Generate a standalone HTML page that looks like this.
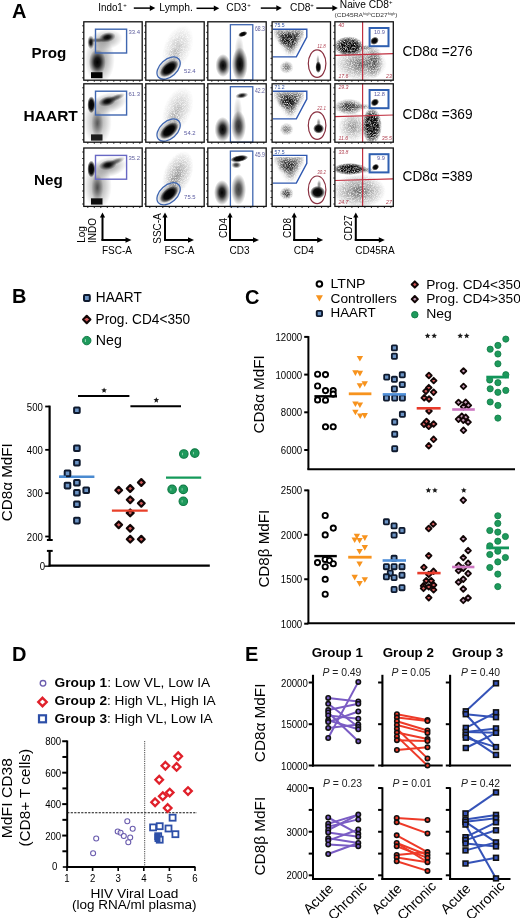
<!DOCTYPE html>
<html><head><meta charset="utf-8"><style>
html,body{margin:0;padding:0;background:#fff;}
svg{display:block;will-change:transform;}
text{font-family:"Liberation Sans", sans-serif;}
</style></head><body>
<svg width="520" height="918" viewBox="0 0 520 918">
<defs>
<filter id="b0.6" x="-100%" y="-100%" width="300%" height="300%"><feGaussianBlur stdDeviation="0.6"/></filter>
<filter id="b1" x="-100%" y="-100%" width="300%" height="300%"><feGaussianBlur stdDeviation="1"/></filter>
<filter id="b1.5" x="-100%" y="-100%" width="300%" height="300%"><feGaussianBlur stdDeviation="1.5"/></filter>
<filter id="b2" x="-100%" y="-100%" width="300%" height="300%"><feGaussianBlur stdDeviation="2"/></filter>
<filter id="b2.5" x="-100%" y="-100%" width="300%" height="300%"><feGaussianBlur stdDeviation="2.5"/></filter>
<filter id="b3" x="-100%" y="-100%" width="300%" height="300%"><feGaussianBlur stdDeviation="3"/></filter>
<filter id="b4" x="-100%" y="-100%" width="300%" height="300%"><feGaussianBlur stdDeviation="4"/></filter>
<radialGradient id="g1"><stop offset="0" stop-color="#000" stop-opacity="1"/><stop offset="0.35" stop-color="#000" stop-opacity="0.85"/><stop offset="0.7" stop-color="#000" stop-opacity="0.35"/><stop offset="1" stop-color="#000" stop-opacity="0"/></radialGradient>
<radialGradient id="g2"><stop offset="0" stop-color="#000" stop-opacity="1"/><stop offset="0.55" stop-color="#000" stop-opacity="0.95"/><stop offset="0.8" stop-color="#000" stop-opacity="0.5"/><stop offset="1" stop-color="#000" stop-opacity="0"/></radialGradient>
<radialGradient id="g3"><stop offset="0" stop-color="#000" stop-opacity="1"/><stop offset="0.5" stop-color="#000" stop-opacity="0.5"/><stop offset="1" stop-color="#000" stop-opacity="0"/></radialGradient>
<filter id="speck" x="0" y="0" width="100%" height="100%">
<feTurbulence type="fractalNoise" baseFrequency="0.9" numOctaves="1" seed="3" result="n"/>
<feColorMatrix in="n" type="matrix" values="0 0 0 0 0  0 0 0 0 0  0 0 0 0 0  0 0 0 -2.2 1.3" result="m"/>
<feComposite in="SourceGraphic" in2="m" operator="in"/>
</filter>
<filter id="speck2" x="0" y="0" width="100%" height="100%" color-interpolation-filters="sRGB">
<feTurbulence type="fractalNoise" baseFrequency="1.3" numOctaves="2" seed="7" result="n"/>
<feColorMatrix in="n" type="matrix" values="0 0 0 0 0  0 0 0 0 0  0 0 0 0 0  0 0 0 -2.2 1.55" result="m"/>
<feComposite in="SourceGraphic" in2="m" operator="in"/>
</filter>
<filter id="dens" x="0" y="0" width="100%" height="100%" color-interpolation-filters="sRGB">
<feTurbulence type="fractalNoise" baseFrequency="1.5" numOctaves="1" seed="5" result="t"/>
<feColorMatrix in="t" type="matrix" values="0 0 0 0 0  0 0 0 0 0  0 0 0 0 0  1.6 0 0 0 -0.3" result="n"/>
<feComposite in="SourceAlpha" in2="n" operator="arithmetic" k1="0" k2="1.1" k3="-1" k4="0.5" result="d"/>
<feComponentTransfer in="d" result="th"><feFuncA type="linear" slope="2.2" intercept="-0.6"/></feComponentTransfer>
<feComponentTransfer in="SourceAlpha" result="sa"><feFuncA type="linear" slope="4" intercept="0"/></feComponentTransfer>
<feComposite in="th" in2="sa" operator="in" result="th2"/>
<feGaussianBlur in="th2" stdDeviation="0.3" result="th3"/>
<feFlood flood-color="#000" result="blk"/>
<feComposite in="blk" in2="th3" operator="in"/>
</filter>
<filter id="grain" x="0" y="0" width="100%" height="100%" color-interpolation-filters="sRGB">
<feTurbulence type="fractalNoise" baseFrequency="1.3" numOctaves="2" seed="11" result="t"/>
<feColorMatrix in="t" type="matrix" values="0 0 0 0 0  0 0 0 0 0  0 0 0 0 0  2.0 0 0 0 -0.2" result="n"/>
<feComposite in="SourceGraphic" in2="n" operator="in"/>
</filter>
</defs>
<rect width="520" height="918" fill="#fff"/>
<text x="12.00" y="17.50" font-size="20" text-anchor="start" font-weight="bold" fill="#000" >A</text>
<text x="98.30" y="11.10" font-size="10" text-anchor="start" font-weight="normal" fill="#000" textLength="24.50" lengthAdjust="spacingAndGlyphs" >Indo1</text>
<text x="123.30" y="7.00" font-size="6" text-anchor="start" font-weight="normal" fill="#000" >+</text>
<line x1="133.80" y1="8.10" x2="150.30" y2="8.10" stroke="#000" stroke-width="1.5" />
<path d="M155.30,8.10 L149.80,5.20 L149.80,11.00 Z" fill="#000"/>
<text x="159.30" y="11.10" font-size="10" text-anchor="start" font-weight="normal" fill="#000" textLength="33.50" lengthAdjust="spacingAndGlyphs" >Lymph.</text>
<line x1="196.50" y1="8.30" x2="214.30" y2="8.30" stroke="#000" stroke-width="1.5" />
<path d="M219.30,8.30 L213.80,5.40 L213.80,11.20 Z" fill="#000"/>
<text x="226.30" y="11.10" font-size="10" text-anchor="start" font-weight="normal" fill="#000" textLength="20.40" lengthAdjust="spacingAndGlyphs" >CD3</text>
<text x="247.30" y="7.00" font-size="6" text-anchor="start" font-weight="normal" fill="#000" >+</text>
<line x1="260.80" y1="8.10" x2="276.80" y2="8.10" stroke="#000" stroke-width="1.5" />
<path d="M281.80,8.10 L276.30,5.20 L276.30,11.00 Z" fill="#000"/>
<text x="290.10" y="11.10" font-size="10" text-anchor="start" font-weight="normal" fill="#000" textLength="20.40" lengthAdjust="spacingAndGlyphs" >CD8</text>
<text x="310.30" y="7.00" font-size="6" text-anchor="start" font-weight="normal" fill="#000" >+</text>
<line x1="316.30" y1="8.10" x2="332.80" y2="8.10" stroke="#000" stroke-width="1.5" />
<path d="M337.80,8.10 L332.30,5.20 L332.30,11.00 Z" fill="#000"/>
<text x="339.80" y="7.60" font-size="10" text-anchor="start" font-weight="normal" fill="#000" textLength="49.20" lengthAdjust="spacingAndGlyphs" >Naive CD8</text>
<text x="389.00" y="3.50" font-size="6" text-anchor="start" font-weight="normal" fill="#000" >+</text>
<text x="366.00" y="17.00" font-size="6" text-anchor="middle" font-weight="normal" fill="#333" textLength="63.00" lengthAdjust="spacingAndGlyphs" >(CD45RA<tspan font-size="3.6" dy="-1.8">high</tspan><tspan dy="1.8">CD27</tspan><tspan font-size="3.6" dy="-1.8">high</tspan><tspan dy="1.8">)</tspan></text>
<text x="31.60" y="58.00" font-size="15" text-anchor="start" font-weight="bold" fill="#000" textLength="34.60" lengthAdjust="spacingAndGlyphs" >Prog</text>
<text x="23.60" y="121.00" font-size="15" text-anchor="start" font-weight="bold" fill="#000" textLength="54.20" lengthAdjust="spacingAndGlyphs" >HAART</text>
<text x="34.00" y="184.50" font-size="15" text-anchor="start" font-weight="bold" fill="#000" textLength="28.80" lengthAdjust="spacingAndGlyphs" >Neg</text>
<text x="402.50" y="56.30" font-size="14.2" text-anchor="start" font-weight="normal" fill="#000" textLength="70.00" lengthAdjust="spacingAndGlyphs" >CD8&#945; =276</text>
<text x="402.50" y="118.80" font-size="14.2" text-anchor="start" font-weight="normal" fill="#000" textLength="70.00" lengthAdjust="spacingAndGlyphs" >CD8&#945; =369</text>
<text x="402.50" y="181.30" font-size="14.2" text-anchor="start" font-weight="normal" fill="#000" textLength="70.00" lengthAdjust="spacingAndGlyphs" >CD8&#945; =389</text>
<g>
<ellipse cx="99.80" cy="59.80" rx="15.00" ry="24.00" transform="rotate(0 99.80 59.80)" fill="url(#g3)" fill-opacity="0.45"/>
<ellipse cx="105.80" cy="39.80" rx="17.00" ry="10.00" transform="rotate(-8 105.80 39.80)" fill="url(#g3)" fill-opacity="0.38"/>
<ellipse cx="107.30" cy="37.30" rx="8.50" ry="5.00" transform="rotate(-12 107.30 37.30)" fill="url(#g1)" fill-opacity="1.0"/>
<ellipse cx="97.80" cy="40.30" rx="9.00" ry="2.50" transform="rotate(0 97.80 40.30)" fill="url(#g1)" fill-opacity="0.5"/>
<ellipse cx="90.80" cy="42.30" rx="3.50" ry="7.00" transform="rotate(0 90.80 42.30)" fill="url(#g1)" fill-opacity="1.0"/>
<ellipse cx="97.30" cy="62.30" rx="8.50" ry="13.00" transform="rotate(0 97.30 62.30)" fill="url(#g1)" fill-opacity="1.0"/>
</g>
<rect x="91.00" y="72.20" width="11.5" height="6.0" fill="#000" filter="url(#b0.6)"/>
<rect x="95.50" y="29.20" width="31.1" height="23.8" fill="none" stroke="#3f66b0" stroke-width="1.4"/>
<text x="128.40" y="34.20" font-size="5.8" text-anchor="start" font-weight="normal" fill="#5c5c9c" textLength="11.60" lengthAdjust="spacingAndGlyphs" >33.4</text>
<rect x="83.80" y="21.80" width="58.4" height="58.4" fill="none" stroke="#111" stroke-width="1.3"/>
<line x1="82.20" y1="25.80" x2="83.80" y2="25.80" stroke="#111" stroke-width="0.9" />
<line x1="82.20" y1="32.30" x2="83.80" y2="32.30" stroke="#111" stroke-width="0.9" />
<line x1="82.20" y1="38.80" x2="83.80" y2="38.80" stroke="#111" stroke-width="0.9" />
<line x1="82.20" y1="45.30" x2="83.80" y2="45.30" stroke="#111" stroke-width="0.9" />
<line x1="82.20" y1="51.80" x2="83.80" y2="51.80" stroke="#111" stroke-width="0.9" />
<line x1="82.20" y1="58.30" x2="83.80" y2="58.30" stroke="#111" stroke-width="0.9" />
<line x1="82.20" y1="64.80" x2="83.80" y2="64.80" stroke="#111" stroke-width="0.9" />
<line x1="82.20" y1="71.30" x2="83.80" y2="71.30" stroke="#111" stroke-width="0.9" />
<line x1="82.20" y1="77.80" x2="83.80" y2="77.80" stroke="#111" stroke-width="0.9" />
<line x1="87.80" y1="80.20" x2="87.80" y2="81.80" stroke="#111" stroke-width="0.9" />
<line x1="94.30" y1="80.20" x2="94.30" y2="81.80" stroke="#111" stroke-width="0.9" />
<line x1="100.80" y1="80.20" x2="100.80" y2="81.80" stroke="#111" stroke-width="0.9" />
<line x1="107.30" y1="80.20" x2="107.30" y2="81.80" stroke="#111" stroke-width="0.9" />
<line x1="113.80" y1="80.20" x2="113.80" y2="81.80" stroke="#111" stroke-width="0.9" />
<line x1="120.30" y1="80.20" x2="120.30" y2="81.80" stroke="#111" stroke-width="0.9" />
<line x1="126.80" y1="80.20" x2="126.80" y2="81.80" stroke="#111" stroke-width="0.9" />
<line x1="133.30" y1="80.20" x2="133.30" y2="81.80" stroke="#111" stroke-width="0.9" />
<line x1="139.80" y1="80.20" x2="139.80" y2="81.80" stroke="#111" stroke-width="0.9" />
<g>
<ellipse cx="97.80" cy="121.80" rx="14.00" ry="24.00" transform="rotate(0 97.80 121.80)" fill="url(#g3)" fill-opacity="0.4"/>
<ellipse cx="108.80" cy="102.80" rx="18.00" ry="10.00" transform="rotate(-12 108.80 102.80)" fill="url(#g3)" fill-opacity="0.42"/>
<ellipse cx="107.30" cy="101.30" rx="9.00" ry="5.00" transform="rotate(-15 107.30 101.30)" fill="url(#g1)" fill-opacity="1.0"/>
<ellipse cx="115.80" cy="97.80" rx="10.00" ry="3.20" transform="rotate(-22 115.80 97.80)" fill="url(#g1)" fill-opacity="0.6"/>
<ellipse cx="91.30" cy="104.80" rx="4.00" ry="8.50" transform="rotate(0 91.30 104.80)" fill="url(#g2)" fill-opacity="1.0"/>
<ellipse cx="97.30" cy="123.80" rx="6.00" ry="14.00" transform="rotate(0 97.30 123.80)" fill="url(#g3)" fill-opacity="0.45"/>
</g>
<rect x="91.00" y="134.40" width="11.5" height="6.2" fill="#1a1a1a" filter="url(#b0.6)"/>
<rect x="95.50" y="91.20" width="31.1" height="23.8" fill="none" stroke="#3f66b0" stroke-width="1.4"/>
<text x="128.40" y="96.20" font-size="5.8" text-anchor="start" font-weight="normal" fill="#5c5c9c" textLength="11.60" lengthAdjust="spacingAndGlyphs" >61.3</text>
<rect x="83.80" y="83.80" width="58.4" height="58.4" fill="none" stroke="#111" stroke-width="1.3"/>
<line x1="82.20" y1="87.80" x2="83.80" y2="87.80" stroke="#111" stroke-width="0.9" />
<line x1="82.20" y1="94.30" x2="83.80" y2="94.30" stroke="#111" stroke-width="0.9" />
<line x1="82.20" y1="100.80" x2="83.80" y2="100.80" stroke="#111" stroke-width="0.9" />
<line x1="82.20" y1="107.30" x2="83.80" y2="107.30" stroke="#111" stroke-width="0.9" />
<line x1="82.20" y1="113.80" x2="83.80" y2="113.80" stroke="#111" stroke-width="0.9" />
<line x1="82.20" y1="120.30" x2="83.80" y2="120.30" stroke="#111" stroke-width="0.9" />
<line x1="82.20" y1="126.80" x2="83.80" y2="126.80" stroke="#111" stroke-width="0.9" />
<line x1="82.20" y1="133.30" x2="83.80" y2="133.30" stroke="#111" stroke-width="0.9" />
<line x1="82.20" y1="139.80" x2="83.80" y2="139.80" stroke="#111" stroke-width="0.9" />
<line x1="87.80" y1="142.20" x2="87.80" y2="143.80" stroke="#111" stroke-width="0.9" />
<line x1="94.30" y1="142.20" x2="94.30" y2="143.80" stroke="#111" stroke-width="0.9" />
<line x1="100.80" y1="142.20" x2="100.80" y2="143.80" stroke="#111" stroke-width="0.9" />
<line x1="107.30" y1="142.20" x2="107.30" y2="143.80" stroke="#111" stroke-width="0.9" />
<line x1="113.80" y1="142.20" x2="113.80" y2="143.80" stroke="#111" stroke-width="0.9" />
<line x1="120.30" y1="142.20" x2="120.30" y2="143.80" stroke="#111" stroke-width="0.9" />
<line x1="126.80" y1="142.20" x2="126.80" y2="143.80" stroke="#111" stroke-width="0.9" />
<line x1="133.30" y1="142.20" x2="133.30" y2="143.80" stroke="#111" stroke-width="0.9" />
<line x1="139.80" y1="142.20" x2="139.80" y2="143.80" stroke="#111" stroke-width="0.9" />
<g>
<ellipse cx="97.80" cy="186.00" rx="14.00" ry="24.00" transform="rotate(0 97.80 186.00)" fill="url(#g3)" fill-opacity="0.42"/>
<ellipse cx="108.80" cy="167.00" rx="18.00" ry="10.00" transform="rotate(-12 108.80 167.00)" fill="url(#g3)" fill-opacity="0.42"/>
<ellipse cx="107.80" cy="165.00" rx="9.00" ry="5.00" transform="rotate(-12 107.80 165.00)" fill="url(#g1)" fill-opacity="1.0"/>
<ellipse cx="115.80" cy="161.50" rx="10.00" ry="3.20" transform="rotate(-22 115.80 161.50)" fill="url(#g1)" fill-opacity="0.55"/>
<ellipse cx="91.30" cy="169.00" rx="4.00" ry="8.50" transform="rotate(0 91.30 169.00)" fill="url(#g2)" fill-opacity="1.0"/>
<ellipse cx="97.30" cy="188.00" rx="6.00" ry="14.00" transform="rotate(0 97.30 188.00)" fill="url(#g3)" fill-opacity="0.5"/>
</g>
<rect x="91.00" y="198.30" width="11.5" height="6.3" fill="#111" filter="url(#b0.6)"/>
<rect x="95.50" y="155.40" width="31.1" height="23.8" fill="none" stroke="#6868c4" stroke-width="1.4"/>
<text x="128.40" y="160.40" font-size="5.8" text-anchor="start" font-weight="normal" fill="#5c5c9c" textLength="11.60" lengthAdjust="spacingAndGlyphs" >35.2</text>
<rect x="83.80" y="148.00" width="58.4" height="58.4" fill="none" stroke="#111" stroke-width="1.3"/>
<line x1="82.20" y1="152.00" x2="83.80" y2="152.00" stroke="#111" stroke-width="0.9" />
<line x1="82.20" y1="158.50" x2="83.80" y2="158.50" stroke="#111" stroke-width="0.9" />
<line x1="82.20" y1="165.00" x2="83.80" y2="165.00" stroke="#111" stroke-width="0.9" />
<line x1="82.20" y1="171.50" x2="83.80" y2="171.50" stroke="#111" stroke-width="0.9" />
<line x1="82.20" y1="178.00" x2="83.80" y2="178.00" stroke="#111" stroke-width="0.9" />
<line x1="82.20" y1="184.50" x2="83.80" y2="184.50" stroke="#111" stroke-width="0.9" />
<line x1="82.20" y1="191.00" x2="83.80" y2="191.00" stroke="#111" stroke-width="0.9" />
<line x1="82.20" y1="197.50" x2="83.80" y2="197.50" stroke="#111" stroke-width="0.9" />
<line x1="82.20" y1="204.00" x2="83.80" y2="204.00" stroke="#111" stroke-width="0.9" />
<line x1="87.80" y1="206.40" x2="87.80" y2="208.00" stroke="#111" stroke-width="0.9" />
<line x1="94.30" y1="206.40" x2="94.30" y2="208.00" stroke="#111" stroke-width="0.9" />
<line x1="100.80" y1="206.40" x2="100.80" y2="208.00" stroke="#111" stroke-width="0.9" />
<line x1="107.30" y1="206.40" x2="107.30" y2="208.00" stroke="#111" stroke-width="0.9" />
<line x1="113.80" y1="206.40" x2="113.80" y2="208.00" stroke="#111" stroke-width="0.9" />
<line x1="120.30" y1="206.40" x2="120.30" y2="208.00" stroke="#111" stroke-width="0.9" />
<line x1="126.80" y1="206.40" x2="126.80" y2="208.00" stroke="#111" stroke-width="0.9" />
<line x1="133.30" y1="206.40" x2="133.30" y2="208.00" stroke="#111" stroke-width="0.9" />
<line x1="139.80" y1="206.40" x2="139.80" y2="208.00" stroke="#111" stroke-width="0.9" />
<g>
<g filter="url(#grain)">
<ellipse cx="177.80" cy="47.80" rx="14.00" ry="24.00" transform="rotate(22 177.80 47.80)" fill="url(#g3)" fill-opacity="0.24"/>
<ellipse cx="173.80" cy="55.80" rx="7.00" ry="9.00" transform="rotate(30 173.80 55.80)" fill="url(#g3)" fill-opacity="0.144"/>
</g>
<ellipse cx="168.60" cy="68.10" rx="14.00" ry="8.50" transform="rotate(-40 168.60 68.10)" fill="url(#g3)" fill-opacity="0.7"/>
</g>
<ellipse cx="169.10" cy="68.60" rx="11.00" ry="6.00" transform="rotate(-40 169.10 68.60)" fill="url(#g2)" fill-opacity="1.0"/>
<ellipse cx="168.60" cy="68.10" rx="13.6" ry="8.6" transform="rotate(-42 168.60 68.10)" fill="none" stroke="#3f66b0" stroke-width="1.3"/>
<text x="184.10" y="72.80" font-size="6.2" text-anchor="start" font-weight="normal" fill="#5a5aa0" textLength="11.50" lengthAdjust="spacingAndGlyphs" >52.4</text>
<rect x="145.80" y="21.80" width="58.4" height="58.4" fill="none" stroke="#111" stroke-width="1.3"/>
<line x1="144.20" y1="25.80" x2="145.80" y2="25.80" stroke="#111" stroke-width="0.9" />
<line x1="144.20" y1="32.30" x2="145.80" y2="32.30" stroke="#111" stroke-width="0.9" />
<line x1="144.20" y1="38.80" x2="145.80" y2="38.80" stroke="#111" stroke-width="0.9" />
<line x1="144.20" y1="45.30" x2="145.80" y2="45.30" stroke="#111" stroke-width="0.9" />
<line x1="144.20" y1="51.80" x2="145.80" y2="51.80" stroke="#111" stroke-width="0.9" />
<line x1="144.20" y1="58.30" x2="145.80" y2="58.30" stroke="#111" stroke-width="0.9" />
<line x1="144.20" y1="64.80" x2="145.80" y2="64.80" stroke="#111" stroke-width="0.9" />
<line x1="144.20" y1="71.30" x2="145.80" y2="71.30" stroke="#111" stroke-width="0.9" />
<line x1="144.20" y1="77.80" x2="145.80" y2="77.80" stroke="#111" stroke-width="0.9" />
<line x1="149.80" y1="80.20" x2="149.80" y2="81.80" stroke="#111" stroke-width="0.9" />
<line x1="156.30" y1="80.20" x2="156.30" y2="81.80" stroke="#111" stroke-width="0.9" />
<line x1="162.80" y1="80.20" x2="162.80" y2="81.80" stroke="#111" stroke-width="0.9" />
<line x1="169.30" y1="80.20" x2="169.30" y2="81.80" stroke="#111" stroke-width="0.9" />
<line x1="175.80" y1="80.20" x2="175.80" y2="81.80" stroke="#111" stroke-width="0.9" />
<line x1="182.30" y1="80.20" x2="182.30" y2="81.80" stroke="#111" stroke-width="0.9" />
<line x1="188.80" y1="80.20" x2="188.80" y2="81.80" stroke="#111" stroke-width="0.9" />
<line x1="195.30" y1="80.20" x2="195.30" y2="81.80" stroke="#111" stroke-width="0.9" />
<line x1="201.80" y1="80.20" x2="201.80" y2="81.80" stroke="#111" stroke-width="0.9" />
<g>
<g filter="url(#grain)">
<ellipse cx="177.80" cy="109.80" rx="14.00" ry="24.00" transform="rotate(22 177.80 109.80)" fill="url(#g3)" fill-opacity="0.27"/>
<ellipse cx="173.80" cy="117.80" rx="7.00" ry="9.00" transform="rotate(30 173.80 117.80)" fill="url(#g3)" fill-opacity="0.162"/>
</g>
<ellipse cx="168.60" cy="130.10" rx="14.00" ry="8.50" transform="rotate(-40 168.60 130.10)" fill="url(#g3)" fill-opacity="0.7"/>
</g>
<ellipse cx="169.10" cy="130.60" rx="11.00" ry="6.00" transform="rotate(-40 169.10 130.60)" fill="url(#g2)" fill-opacity="1.0"/>
<ellipse cx="168.60" cy="130.10" rx="13.6" ry="8.6" transform="rotate(-42 168.60 130.10)" fill="none" stroke="#3f66b0" stroke-width="1.3"/>
<text x="184.10" y="134.80" font-size="6.2" text-anchor="start" font-weight="normal" fill="#5a5aa0" textLength="11.50" lengthAdjust="spacingAndGlyphs" >54.2</text>
<rect x="145.80" y="83.80" width="58.4" height="58.4" fill="none" stroke="#111" stroke-width="1.3"/>
<line x1="144.20" y1="87.80" x2="145.80" y2="87.80" stroke="#111" stroke-width="0.9" />
<line x1="144.20" y1="94.30" x2="145.80" y2="94.30" stroke="#111" stroke-width="0.9" />
<line x1="144.20" y1="100.80" x2="145.80" y2="100.80" stroke="#111" stroke-width="0.9" />
<line x1="144.20" y1="107.30" x2="145.80" y2="107.30" stroke="#111" stroke-width="0.9" />
<line x1="144.20" y1="113.80" x2="145.80" y2="113.80" stroke="#111" stroke-width="0.9" />
<line x1="144.20" y1="120.30" x2="145.80" y2="120.30" stroke="#111" stroke-width="0.9" />
<line x1="144.20" y1="126.80" x2="145.80" y2="126.80" stroke="#111" stroke-width="0.9" />
<line x1="144.20" y1="133.30" x2="145.80" y2="133.30" stroke="#111" stroke-width="0.9" />
<line x1="144.20" y1="139.80" x2="145.80" y2="139.80" stroke="#111" stroke-width="0.9" />
<line x1="149.80" y1="142.20" x2="149.80" y2="143.80" stroke="#111" stroke-width="0.9" />
<line x1="156.30" y1="142.20" x2="156.30" y2="143.80" stroke="#111" stroke-width="0.9" />
<line x1="162.80" y1="142.20" x2="162.80" y2="143.80" stroke="#111" stroke-width="0.9" />
<line x1="169.30" y1="142.20" x2="169.30" y2="143.80" stroke="#111" stroke-width="0.9" />
<line x1="175.80" y1="142.20" x2="175.80" y2="143.80" stroke="#111" stroke-width="0.9" />
<line x1="182.30" y1="142.20" x2="182.30" y2="143.80" stroke="#111" stroke-width="0.9" />
<line x1="188.80" y1="142.20" x2="188.80" y2="143.80" stroke="#111" stroke-width="0.9" />
<line x1="195.30" y1="142.20" x2="195.30" y2="143.80" stroke="#111" stroke-width="0.9" />
<line x1="201.80" y1="142.20" x2="201.80" y2="143.80" stroke="#111" stroke-width="0.9" />
<g>
<g filter="url(#grain)">
<ellipse cx="177.80" cy="174.00" rx="14.00" ry="24.00" transform="rotate(22 177.80 174.00)" fill="url(#g3)" fill-opacity="0.4"/>
<ellipse cx="173.80" cy="182.00" rx="7.00" ry="9.00" transform="rotate(30 173.80 182.00)" fill="url(#g3)" fill-opacity="0.24"/>
</g>
<ellipse cx="168.60" cy="193.80" rx="14.00" ry="8.50" transform="rotate(-40 168.60 193.80)" fill="url(#g3)" fill-opacity="0.7"/>
</g>
<ellipse cx="169.10" cy="194.30" rx="11.00" ry="6.00" transform="rotate(-40 169.10 194.30)" fill="url(#g2)" fill-opacity="1.0"/>
<ellipse cx="168.60" cy="193.80" rx="13.6" ry="8.6" transform="rotate(-42 168.60 193.80)" fill="none" stroke="#3f66b0" stroke-width="1.3"/>
<text x="184.10" y="199.00" font-size="6.2" text-anchor="start" font-weight="normal" fill="#5a5aa0" textLength="11.50" lengthAdjust="spacingAndGlyphs" >75.5</text>
<rect x="145.80" y="148.00" width="58.4" height="58.4" fill="none" stroke="#111" stroke-width="1.3"/>
<line x1="144.20" y1="152.00" x2="145.80" y2="152.00" stroke="#111" stroke-width="0.9" />
<line x1="144.20" y1="158.50" x2="145.80" y2="158.50" stroke="#111" stroke-width="0.9" />
<line x1="144.20" y1="165.00" x2="145.80" y2="165.00" stroke="#111" stroke-width="0.9" />
<line x1="144.20" y1="171.50" x2="145.80" y2="171.50" stroke="#111" stroke-width="0.9" />
<line x1="144.20" y1="178.00" x2="145.80" y2="178.00" stroke="#111" stroke-width="0.9" />
<line x1="144.20" y1="184.50" x2="145.80" y2="184.50" stroke="#111" stroke-width="0.9" />
<line x1="144.20" y1="191.00" x2="145.80" y2="191.00" stroke="#111" stroke-width="0.9" />
<line x1="144.20" y1="197.50" x2="145.80" y2="197.50" stroke="#111" stroke-width="0.9" />
<line x1="144.20" y1="204.00" x2="145.80" y2="204.00" stroke="#111" stroke-width="0.9" />
<line x1="149.80" y1="206.40" x2="149.80" y2="208.00" stroke="#111" stroke-width="0.9" />
<line x1="156.30" y1="206.40" x2="156.30" y2="208.00" stroke="#111" stroke-width="0.9" />
<line x1="162.80" y1="206.40" x2="162.80" y2="208.00" stroke="#111" stroke-width="0.9" />
<line x1="169.30" y1="206.40" x2="169.30" y2="208.00" stroke="#111" stroke-width="0.9" />
<line x1="175.80" y1="206.40" x2="175.80" y2="208.00" stroke="#111" stroke-width="0.9" />
<line x1="182.30" y1="206.40" x2="182.30" y2="208.00" stroke="#111" stroke-width="0.9" />
<line x1="188.80" y1="206.40" x2="188.80" y2="208.00" stroke="#111" stroke-width="0.9" />
<line x1="195.30" y1="206.40" x2="195.30" y2="208.00" stroke="#111" stroke-width="0.9" />
<line x1="201.80" y1="206.40" x2="201.80" y2="208.00" stroke="#111" stroke-width="0.9" />
<g>
<ellipse cx="223.00" cy="65.50" rx="7.50" ry="11.50" transform="rotate(0 223.00 65.50)" fill="url(#g1)" fill-opacity="1.0"/>
<ellipse cx="239.80" cy="64.30" rx="8.00" ry="17.00" transform="rotate(0 239.80 64.30)" fill="url(#g1)" fill-opacity="1.0"/>
<ellipse cx="239.30" cy="54.80" rx="5.00" ry="20.00" transform="rotate(0 239.30 54.80)" fill="url(#g3)" fill-opacity="0.3"/>
</g>
<ellipse cx="242.80" cy="34.10" rx="4.80" ry="2.60" transform="rotate(-20 242.80 34.10)" fill="url(#g2)" fill-opacity="1.0"/>
<rect x="230.40" y="24.70" width="22.4" height="55.50" fill="none" stroke="#3f66b0" stroke-width="1.3"/>
<text x="254.90" y="30.70" font-size="6.8" text-anchor="start" font-weight="normal" fill="#5c5c9c" textLength="9.90" lengthAdjust="spacingAndGlyphs" >68.3</text>
<rect x="207.80" y="21.80" width="58.4" height="58.4" fill="none" stroke="#111" stroke-width="1.3"/>
<line x1="206.20" y1="25.80" x2="207.80" y2="25.80" stroke="#111" stroke-width="0.9" />
<line x1="206.20" y1="32.30" x2="207.80" y2="32.30" stroke="#111" stroke-width="0.9" />
<line x1="206.20" y1="38.80" x2="207.80" y2="38.80" stroke="#111" stroke-width="0.9" />
<line x1="206.20" y1="45.30" x2="207.80" y2="45.30" stroke="#111" stroke-width="0.9" />
<line x1="206.20" y1="51.80" x2="207.80" y2="51.80" stroke="#111" stroke-width="0.9" />
<line x1="206.20" y1="58.30" x2="207.80" y2="58.30" stroke="#111" stroke-width="0.9" />
<line x1="206.20" y1="64.80" x2="207.80" y2="64.80" stroke="#111" stroke-width="0.9" />
<line x1="206.20" y1="71.30" x2="207.80" y2="71.30" stroke="#111" stroke-width="0.9" />
<line x1="206.20" y1="77.80" x2="207.80" y2="77.80" stroke="#111" stroke-width="0.9" />
<line x1="211.80" y1="80.20" x2="211.80" y2="81.80" stroke="#111" stroke-width="0.9" />
<line x1="218.30" y1="80.20" x2="218.30" y2="81.80" stroke="#111" stroke-width="0.9" />
<line x1="224.80" y1="80.20" x2="224.80" y2="81.80" stroke="#111" stroke-width="0.9" />
<line x1="231.30" y1="80.20" x2="231.30" y2="81.80" stroke="#111" stroke-width="0.9" />
<line x1="237.80" y1="80.20" x2="237.80" y2="81.80" stroke="#111" stroke-width="0.9" />
<line x1="244.30" y1="80.20" x2="244.30" y2="81.80" stroke="#111" stroke-width="0.9" />
<line x1="250.80" y1="80.20" x2="250.80" y2="81.80" stroke="#111" stroke-width="0.9" />
<line x1="257.30" y1="80.20" x2="257.30" y2="81.80" stroke="#111" stroke-width="0.9" />
<line x1="263.80" y1="80.20" x2="263.80" y2="81.80" stroke="#111" stroke-width="0.9" />
<g>
<ellipse cx="222.60" cy="129.40" rx="8.00" ry="12.50" transform="rotate(0 222.60 129.40)" fill="url(#g1)" fill-opacity="1.0"/>
<ellipse cx="238.60" cy="126.30" rx="7.50" ry="15.50" transform="rotate(0 238.60 126.30)" fill="url(#g1)" fill-opacity="0.8"/>
<ellipse cx="237.80" cy="113.80" rx="4.50" ry="18.00" transform="rotate(0 237.80 113.80)" fill="url(#g3)" fill-opacity="0.25"/>
</g>
<ellipse cx="241.80" cy="95.50" rx="6.50" ry="3.00" transform="rotate(-10 241.80 95.50)" fill="url(#g1)" fill-opacity="0.95"/>
<rect x="230.40" y="86.70" width="22.4" height="55.50" fill="none" stroke="#3f66b0" stroke-width="1.3"/>
<text x="254.90" y="92.70" font-size="6.8" text-anchor="start" font-weight="normal" fill="#5c5c9c" textLength="9.90" lengthAdjust="spacingAndGlyphs" >42.2</text>
<rect x="207.80" y="83.80" width="58.4" height="58.4" fill="none" stroke="#111" stroke-width="1.3"/>
<line x1="206.20" y1="87.80" x2="207.80" y2="87.80" stroke="#111" stroke-width="0.9" />
<line x1="206.20" y1="94.30" x2="207.80" y2="94.30" stroke="#111" stroke-width="0.9" />
<line x1="206.20" y1="100.80" x2="207.80" y2="100.80" stroke="#111" stroke-width="0.9" />
<line x1="206.20" y1="107.30" x2="207.80" y2="107.30" stroke="#111" stroke-width="0.9" />
<line x1="206.20" y1="113.80" x2="207.80" y2="113.80" stroke="#111" stroke-width="0.9" />
<line x1="206.20" y1="120.30" x2="207.80" y2="120.30" stroke="#111" stroke-width="0.9" />
<line x1="206.20" y1="126.80" x2="207.80" y2="126.80" stroke="#111" stroke-width="0.9" />
<line x1="206.20" y1="133.30" x2="207.80" y2="133.30" stroke="#111" stroke-width="0.9" />
<line x1="206.20" y1="139.80" x2="207.80" y2="139.80" stroke="#111" stroke-width="0.9" />
<line x1="211.80" y1="142.20" x2="211.80" y2="143.80" stroke="#111" stroke-width="0.9" />
<line x1="218.30" y1="142.20" x2="218.30" y2="143.80" stroke="#111" stroke-width="0.9" />
<line x1="224.80" y1="142.20" x2="224.80" y2="143.80" stroke="#111" stroke-width="0.9" />
<line x1="231.30" y1="142.20" x2="231.30" y2="143.80" stroke="#111" stroke-width="0.9" />
<line x1="237.80" y1="142.20" x2="237.80" y2="143.80" stroke="#111" stroke-width="0.9" />
<line x1="244.30" y1="142.20" x2="244.30" y2="143.80" stroke="#111" stroke-width="0.9" />
<line x1="250.80" y1="142.20" x2="250.80" y2="143.80" stroke="#111" stroke-width="0.9" />
<line x1="257.30" y1="142.20" x2="257.30" y2="143.80" stroke="#111" stroke-width="0.9" />
<line x1="263.80" y1="142.20" x2="263.80" y2="143.80" stroke="#111" stroke-width="0.9" />
<g>
<ellipse cx="222.00" cy="192.60" rx="8.00" ry="12.50" transform="rotate(0 222.00 192.60)" fill="url(#g1)" fill-opacity="1.0"/>
<ellipse cx="238.60" cy="189.50" rx="7.50" ry="15.50" transform="rotate(0 238.60 189.50)" fill="url(#g1)" fill-opacity="0.75"/>
<ellipse cx="236.30" cy="165.00" rx="5.00" ry="3.50" transform="rotate(0 236.30 165.00)" fill="url(#g1)" fill-opacity="0.8"/>
</g>
<ellipse cx="239.30" cy="158.60" rx="9.00" ry="3.40" transform="rotate(-10 239.30 158.60)" fill="url(#g2)" fill-opacity="1.0"/>
<rect x="230.40" y="151.10" width="22.4" height="55.50" fill="none" stroke="#3f66b0" stroke-width="1.3"/>
<text x="254.90" y="156.90" font-size="6.8" text-anchor="start" font-weight="normal" fill="#5c5c9c" textLength="9.90" lengthAdjust="spacingAndGlyphs" >45.9</text>
<rect x="207.80" y="148.00" width="58.4" height="58.4" fill="none" stroke="#111" stroke-width="1.3"/>
<line x1="206.20" y1="152.00" x2="207.80" y2="152.00" stroke="#111" stroke-width="0.9" />
<line x1="206.20" y1="158.50" x2="207.80" y2="158.50" stroke="#111" stroke-width="0.9" />
<line x1="206.20" y1="165.00" x2="207.80" y2="165.00" stroke="#111" stroke-width="0.9" />
<line x1="206.20" y1="171.50" x2="207.80" y2="171.50" stroke="#111" stroke-width="0.9" />
<line x1="206.20" y1="178.00" x2="207.80" y2="178.00" stroke="#111" stroke-width="0.9" />
<line x1="206.20" y1="184.50" x2="207.80" y2="184.50" stroke="#111" stroke-width="0.9" />
<line x1="206.20" y1="191.00" x2="207.80" y2="191.00" stroke="#111" stroke-width="0.9" />
<line x1="206.20" y1="197.50" x2="207.80" y2="197.50" stroke="#111" stroke-width="0.9" />
<line x1="206.20" y1="204.00" x2="207.80" y2="204.00" stroke="#111" stroke-width="0.9" />
<line x1="211.80" y1="206.40" x2="211.80" y2="208.00" stroke="#111" stroke-width="0.9" />
<line x1="218.30" y1="206.40" x2="218.30" y2="208.00" stroke="#111" stroke-width="0.9" />
<line x1="224.80" y1="206.40" x2="224.80" y2="208.00" stroke="#111" stroke-width="0.9" />
<line x1="231.30" y1="206.40" x2="231.30" y2="208.00" stroke="#111" stroke-width="0.9" />
<line x1="237.80" y1="206.40" x2="237.80" y2="208.00" stroke="#111" stroke-width="0.9" />
<line x1="244.30" y1="206.40" x2="244.30" y2="208.00" stroke="#111" stroke-width="0.9" />
<line x1="250.80" y1="206.40" x2="250.80" y2="208.00" stroke="#111" stroke-width="0.9" />
<line x1="257.30" y1="206.40" x2="257.30" y2="208.00" stroke="#111" stroke-width="0.9" />
<line x1="263.80" y1="206.40" x2="263.80" y2="208.00" stroke="#111" stroke-width="0.9" />
<g filter="url(#grain)">
<path d="M274.6,30.8 L303.6,30.8 L290.6,53.8 Z" fill="#000" fill-opacity="0.7360000000000001" filter="url(#b2.5)"/>
<ellipse cx="288.10" cy="39.80" rx="11.00" ry="8.00" transform="rotate(0 288.10 39.80)" fill="url(#g1)" fill-opacity="0.92"/>
<ellipse cx="286.60" cy="67.30" rx="7.00" ry="6.50" transform="rotate(0 286.60 67.30)" fill="url(#g1)" fill-opacity="0.55"/>
</g>
<ellipse cx="318.30" cy="67.10" rx="3.00" ry="6.00" transform="rotate(0 318.30 67.10)" fill="url(#g2)" fill-opacity="1.0"/>
<ellipse cx="317.90" cy="60.60" rx="1.80" ry="6.00" transform="rotate(0 317.90 60.60)" fill="url(#g1)" fill-opacity="0.35"/>
<ellipse cx="317.10" cy="63.60" rx="8.8" ry="13.8" fill="none" stroke="#8a3040" stroke-width="1.2"/>
<path d="M272.90,29.20 L306.80,29.20 L306.80,37.20 L296.30,56.90 L272.90,56.90" fill="none" stroke="#2f58b0" stroke-width="1.4"/>
<text x="274.60" y="27.40" font-size="6" text-anchor="start" font-weight="normal" fill="#3050a0" textLength="10.00" lengthAdjust="spacingAndGlyphs" >75.5</text>
<text x="317.30" y="47.60" font-size="5.2" text-anchor="start" font-weight="normal" fill="#b04050" font-style="italic" textLength="8.60" lengthAdjust="spacingAndGlyphs" >11.8</text>
<rect x="272.10" y="21.80" width="58.4" height="58.4" fill="none" stroke="#111" stroke-width="1.3"/>
<line x1="270.50" y1="25.80" x2="272.10" y2="25.80" stroke="#111" stroke-width="0.9" />
<line x1="270.50" y1="32.30" x2="272.10" y2="32.30" stroke="#111" stroke-width="0.9" />
<line x1="270.50" y1="38.80" x2="272.10" y2="38.80" stroke="#111" stroke-width="0.9" />
<line x1="270.50" y1="45.30" x2="272.10" y2="45.30" stroke="#111" stroke-width="0.9" />
<line x1="270.50" y1="51.80" x2="272.10" y2="51.80" stroke="#111" stroke-width="0.9" />
<line x1="270.50" y1="58.30" x2="272.10" y2="58.30" stroke="#111" stroke-width="0.9" />
<line x1="270.50" y1="64.80" x2="272.10" y2="64.80" stroke="#111" stroke-width="0.9" />
<line x1="270.50" y1="71.30" x2="272.10" y2="71.30" stroke="#111" stroke-width="0.9" />
<line x1="270.50" y1="77.80" x2="272.10" y2="77.80" stroke="#111" stroke-width="0.9" />
<line x1="276.10" y1="80.20" x2="276.10" y2="81.80" stroke="#111" stroke-width="0.9" />
<line x1="282.60" y1="80.20" x2="282.60" y2="81.80" stroke="#111" stroke-width="0.9" />
<line x1="289.10" y1="80.20" x2="289.10" y2="81.80" stroke="#111" stroke-width="0.9" />
<line x1="295.60" y1="80.20" x2="295.60" y2="81.80" stroke="#111" stroke-width="0.9" />
<line x1="302.10" y1="80.20" x2="302.10" y2="81.80" stroke="#111" stroke-width="0.9" />
<line x1="308.60" y1="80.20" x2="308.60" y2="81.80" stroke="#111" stroke-width="0.9" />
<line x1="315.10" y1="80.20" x2="315.10" y2="81.80" stroke="#111" stroke-width="0.9" />
<line x1="321.60" y1="80.20" x2="321.60" y2="81.80" stroke="#111" stroke-width="0.9" />
<line x1="328.10" y1="80.20" x2="328.10" y2="81.80" stroke="#111" stroke-width="0.9" />
<g filter="url(#grain)">
<path d="M274.6,92.8 L303.6,92.8 L290.6,115.8 Z" fill="#000" fill-opacity="0.68" filter="url(#b2.5)"/>
<ellipse cx="288.10" cy="101.80" rx="11.00" ry="8.00" transform="rotate(0 288.10 101.80)" fill="url(#g1)" fill-opacity="0.85"/>
<ellipse cx="286.60" cy="129.30" rx="7.00" ry="6.50" transform="rotate(0 286.60 129.30)" fill="url(#g1)" fill-opacity="0.55"/>
</g>
<ellipse cx="318.60" cy="128.60" rx="5.50" ry="5.00" transform="rotate(0 318.60 128.60)" fill="url(#g2)" fill-opacity="1.0"/>
<ellipse cx="318.60" cy="123.10" rx="2.20" ry="5.00" transform="rotate(0 318.60 123.10)" fill="url(#g1)" fill-opacity="0.45"/>
<ellipse cx="317.10" cy="125.60" rx="8.8" ry="13.8" fill="none" stroke="#8a3040" stroke-width="1.2"/>
<path d="M272.90,91.20 L306.80,91.20 L306.80,99.20 L296.30,118.90 L272.90,118.90" fill="none" stroke="#2f58b0" stroke-width="1.4"/>
<text x="274.60" y="89.40" font-size="6" text-anchor="start" font-weight="normal" fill="#3050a0" textLength="10.00" lengthAdjust="spacingAndGlyphs" >71.2</text>
<text x="317.30" y="109.60" font-size="5.2" text-anchor="start" font-weight="normal" fill="#b04050" font-style="italic" textLength="8.60" lengthAdjust="spacingAndGlyphs" >22.1</text>
<rect x="272.10" y="83.80" width="58.4" height="58.4" fill="none" stroke="#111" stroke-width="1.3"/>
<line x1="270.50" y1="87.80" x2="272.10" y2="87.80" stroke="#111" stroke-width="0.9" />
<line x1="270.50" y1="94.30" x2="272.10" y2="94.30" stroke="#111" stroke-width="0.9" />
<line x1="270.50" y1="100.80" x2="272.10" y2="100.80" stroke="#111" stroke-width="0.9" />
<line x1="270.50" y1="107.30" x2="272.10" y2="107.30" stroke="#111" stroke-width="0.9" />
<line x1="270.50" y1="113.80" x2="272.10" y2="113.80" stroke="#111" stroke-width="0.9" />
<line x1="270.50" y1="120.30" x2="272.10" y2="120.30" stroke="#111" stroke-width="0.9" />
<line x1="270.50" y1="126.80" x2="272.10" y2="126.80" stroke="#111" stroke-width="0.9" />
<line x1="270.50" y1="133.30" x2="272.10" y2="133.30" stroke="#111" stroke-width="0.9" />
<line x1="270.50" y1="139.80" x2="272.10" y2="139.80" stroke="#111" stroke-width="0.9" />
<line x1="276.10" y1="142.20" x2="276.10" y2="143.80" stroke="#111" stroke-width="0.9" />
<line x1="282.60" y1="142.20" x2="282.60" y2="143.80" stroke="#111" stroke-width="0.9" />
<line x1="289.10" y1="142.20" x2="289.10" y2="143.80" stroke="#111" stroke-width="0.9" />
<line x1="295.60" y1="142.20" x2="295.60" y2="143.80" stroke="#111" stroke-width="0.9" />
<line x1="302.10" y1="142.20" x2="302.10" y2="143.80" stroke="#111" stroke-width="0.9" />
<line x1="308.60" y1="142.20" x2="308.60" y2="143.80" stroke="#111" stroke-width="0.9" />
<line x1="315.10" y1="142.20" x2="315.10" y2="143.80" stroke="#111" stroke-width="0.9" />
<line x1="321.60" y1="142.20" x2="321.60" y2="143.80" stroke="#111" stroke-width="0.9" />
<line x1="328.10" y1="142.20" x2="328.10" y2="143.80" stroke="#111" stroke-width="0.9" />
<g filter="url(#grain)">
<path d="M274.6,157.0 L303.6,157.0 L290.6,180.0 Z" fill="#000" fill-opacity="0.544" filter="url(#b2.5)"/>
<ellipse cx="288.10" cy="166.00" rx="11.00" ry="8.00" transform="rotate(0 288.10 166.00)" fill="url(#g1)" fill-opacity="0.68"/>
<ellipse cx="286.60" cy="193.50" rx="7.00" ry="6.50" transform="rotate(0 286.60 193.50)" fill="url(#g1)" fill-opacity="0.8"/>
</g>
<ellipse cx="317.60" cy="192.30" rx="7.50" ry="6.50" transform="rotate(0 317.60 192.30)" fill="url(#g2)" fill-opacity="1.0"/>
<ellipse cx="319.10" cy="184.80" rx="2.20" ry="5.00" transform="rotate(0 319.10 184.80)" fill="url(#g1)" fill-opacity="0.45"/>
<ellipse cx="317.10" cy="189.80" rx="8.8" ry="13.8" fill="none" stroke="#8a3040" stroke-width="1.2"/>
<path d="M272.90,155.40 L306.80,155.40 L306.80,163.40 L296.30,183.10 L272.90,183.10" fill="none" stroke="#2f58b0" stroke-width="1.4"/>
<text x="274.60" y="153.60" font-size="6" text-anchor="start" font-weight="normal" fill="#3050a0" textLength="10.00" lengthAdjust="spacingAndGlyphs" >57.5</text>
<text x="317.30" y="173.80" font-size="5.2" text-anchor="start" font-weight="normal" fill="#b04050" font-style="italic" textLength="8.60" lengthAdjust="spacingAndGlyphs" >30.2</text>
<rect x="272.10" y="148.00" width="58.4" height="58.4" fill="none" stroke="#111" stroke-width="1.3"/>
<line x1="270.50" y1="152.00" x2="272.10" y2="152.00" stroke="#111" stroke-width="0.9" />
<line x1="270.50" y1="158.50" x2="272.10" y2="158.50" stroke="#111" stroke-width="0.9" />
<line x1="270.50" y1="165.00" x2="272.10" y2="165.00" stroke="#111" stroke-width="0.9" />
<line x1="270.50" y1="171.50" x2="272.10" y2="171.50" stroke="#111" stroke-width="0.9" />
<line x1="270.50" y1="178.00" x2="272.10" y2="178.00" stroke="#111" stroke-width="0.9" />
<line x1="270.50" y1="184.50" x2="272.10" y2="184.50" stroke="#111" stroke-width="0.9" />
<line x1="270.50" y1="191.00" x2="272.10" y2="191.00" stroke="#111" stroke-width="0.9" />
<line x1="270.50" y1="197.50" x2="272.10" y2="197.50" stroke="#111" stroke-width="0.9" />
<line x1="270.50" y1="204.00" x2="272.10" y2="204.00" stroke="#111" stroke-width="0.9" />
<line x1="276.10" y1="206.40" x2="276.10" y2="208.00" stroke="#111" stroke-width="0.9" />
<line x1="282.60" y1="206.40" x2="282.60" y2="208.00" stroke="#111" stroke-width="0.9" />
<line x1="289.10" y1="206.40" x2="289.10" y2="208.00" stroke="#111" stroke-width="0.9" />
<line x1="295.60" y1="206.40" x2="295.60" y2="208.00" stroke="#111" stroke-width="0.9" />
<line x1="302.10" y1="206.40" x2="302.10" y2="208.00" stroke="#111" stroke-width="0.9" />
<line x1="308.60" y1="206.40" x2="308.60" y2="208.00" stroke="#111" stroke-width="0.9" />
<line x1="315.10" y1="206.40" x2="315.10" y2="208.00" stroke="#111" stroke-width="0.9" />
<line x1="321.60" y1="206.40" x2="321.60" y2="208.00" stroke="#111" stroke-width="0.9" />
<line x1="328.10" y1="206.40" x2="328.10" y2="208.00" stroke="#111" stroke-width="0.9" />
<g filter="url(#grain)">
<ellipse cx="348.90" cy="46.30" rx="15.00" ry="10.00" transform="rotate(0 348.90 46.30)" fill="url(#g2)" fill-opacity="1.0"/>
<ellipse cx="364.90" cy="47.80" rx="10.00" ry="3.00" transform="rotate(0 364.90 47.80)" fill="url(#g1)" fill-opacity="0.5"/>
<ellipse cx="360.90" cy="63.80" rx="26.00" ry="17.00" transform="rotate(0 360.90 63.80)" fill="url(#g3)" fill-opacity="0.6"/>
<ellipse cx="373.90" cy="61.80" rx="9.00" ry="17.00" transform="rotate(0 373.90 61.80)" fill="url(#g3)" fill-opacity="0.65"/>
</g>
<ellipse cx="374.50" cy="40.80" rx="4.60" ry="3.77" transform="rotate(-35 374.50 40.80)" fill="url(#g2)" fill-opacity="1.0"/>
<line x1="334.9" y1="55.30" x2="393.29999999999995" y2="53.70" stroke="#c03040" stroke-width="1.2"/>
<line x1="362.60" y1="21.80" x2="362.60" y2="80.20" stroke="#c03040" stroke-width="1.2" />
<rect x="369.60" y="28.00" width="18.9" height="18.2" fill="none" stroke="#2f5fb0" stroke-width="2"/>
<text x="338.40" y="27.40" font-size="5.2" text-anchor="start" font-weight="normal" fill="#b04050" font-style="italic" >40</text>
<text x="384.90" y="34.10" font-size="5.6" text-anchor="end" font-weight="normal" fill="#5a5aa0" >10.9</text>
<text x="338.40" y="78.10" font-size="5.2" text-anchor="start" font-weight="normal" fill="#b04050" font-style="italic" >17.6</text>
<text x="391.90" y="78.10" font-size="5.2" text-anchor="end" font-weight="normal" fill="#b04050" font-style="italic" >23</text>
<rect x="334.90" y="21.80" width="58.4" height="58.4" fill="none" stroke="#111" stroke-width="1.3"/>
<line x1="333.30" y1="25.80" x2="334.90" y2="25.80" stroke="#111" stroke-width="0.9" />
<line x1="333.30" y1="32.30" x2="334.90" y2="32.30" stroke="#111" stroke-width="0.9" />
<line x1="333.30" y1="38.80" x2="334.90" y2="38.80" stroke="#111" stroke-width="0.9" />
<line x1="333.30" y1="45.30" x2="334.90" y2="45.30" stroke="#111" stroke-width="0.9" />
<line x1="333.30" y1="51.80" x2="334.90" y2="51.80" stroke="#111" stroke-width="0.9" />
<line x1="333.30" y1="58.30" x2="334.90" y2="58.30" stroke="#111" stroke-width="0.9" />
<line x1="333.30" y1="64.80" x2="334.90" y2="64.80" stroke="#111" stroke-width="0.9" />
<line x1="333.30" y1="71.30" x2="334.90" y2="71.30" stroke="#111" stroke-width="0.9" />
<line x1="333.30" y1="77.80" x2="334.90" y2="77.80" stroke="#111" stroke-width="0.9" />
<line x1="338.90" y1="80.20" x2="338.90" y2="81.80" stroke="#111" stroke-width="0.9" />
<line x1="345.40" y1="80.20" x2="345.40" y2="81.80" stroke="#111" stroke-width="0.9" />
<line x1="351.90" y1="80.20" x2="351.90" y2="81.80" stroke="#111" stroke-width="0.9" />
<line x1="358.40" y1="80.20" x2="358.40" y2="81.80" stroke="#111" stroke-width="0.9" />
<line x1="364.90" y1="80.20" x2="364.90" y2="81.80" stroke="#111" stroke-width="0.9" />
<line x1="371.40" y1="80.20" x2="371.40" y2="81.80" stroke="#111" stroke-width="0.9" />
<line x1="377.90" y1="80.20" x2="377.90" y2="81.80" stroke="#111" stroke-width="0.9" />
<line x1="384.40" y1="80.20" x2="384.40" y2="81.80" stroke="#111" stroke-width="0.9" />
<line x1="390.90" y1="80.20" x2="390.90" y2="81.80" stroke="#111" stroke-width="0.9" />
<g filter="url(#grain)">
<ellipse cx="348.90" cy="106.80" rx="15.00" ry="8.00" transform="rotate(0 348.90 106.80)" fill="url(#g1)" fill-opacity="0.85"/>
<ellipse cx="362.90" cy="106.80" rx="10.00" ry="3.00" transform="rotate(0 362.90 106.80)" fill="url(#g1)" fill-opacity="0.45"/>
<ellipse cx="371.90" cy="125.80" rx="10.00" ry="18.00" transform="rotate(0 371.90 125.80)" fill="url(#g2)" fill-opacity="1.0"/>
<ellipse cx="352.90" cy="126.80" rx="15.00" ry="15.00" transform="rotate(0 352.90 126.80)" fill="url(#g3)" fill-opacity="0.45"/>
</g>
<ellipse cx="374.90" cy="102.40" rx="4.40" ry="3.61" transform="rotate(-35 374.90 102.40)" fill="url(#g2)" fill-opacity="1.0"/>
<line x1="334.9" y1="116.60" x2="393.29999999999995" y2="115.00" stroke="#c03040" stroke-width="1.2"/>
<line x1="362.60" y1="83.80" x2="362.60" y2="142.20" stroke="#c03040" stroke-width="1.2" />
<rect x="369.60" y="90.00" width="18.9" height="18.2" fill="none" stroke="#2f5fb0" stroke-width="2"/>
<text x="338.40" y="89.40" font-size="5.2" text-anchor="start" font-weight="normal" fill="#b04050" font-style="italic" >29.3</text>
<text x="384.90" y="96.10" font-size="5.6" text-anchor="end" font-weight="normal" fill="#5a5aa0" >12.8</text>
<text x="338.40" y="140.10" font-size="5.2" text-anchor="start" font-weight="normal" fill="#b04050" font-style="italic" >11.6</text>
<text x="391.90" y="140.10" font-size="5.2" text-anchor="end" font-weight="normal" fill="#b04050" font-style="italic" >35.5</text>
<rect x="334.90" y="83.80" width="58.4" height="58.4" fill="none" stroke="#111" stroke-width="1.3"/>
<line x1="333.30" y1="87.80" x2="334.90" y2="87.80" stroke="#111" stroke-width="0.9" />
<line x1="333.30" y1="94.30" x2="334.90" y2="94.30" stroke="#111" stroke-width="0.9" />
<line x1="333.30" y1="100.80" x2="334.90" y2="100.80" stroke="#111" stroke-width="0.9" />
<line x1="333.30" y1="107.30" x2="334.90" y2="107.30" stroke="#111" stroke-width="0.9" />
<line x1="333.30" y1="113.80" x2="334.90" y2="113.80" stroke="#111" stroke-width="0.9" />
<line x1="333.30" y1="120.30" x2="334.90" y2="120.30" stroke="#111" stroke-width="0.9" />
<line x1="333.30" y1="126.80" x2="334.90" y2="126.80" stroke="#111" stroke-width="0.9" />
<line x1="333.30" y1="133.30" x2="334.90" y2="133.30" stroke="#111" stroke-width="0.9" />
<line x1="333.30" y1="139.80" x2="334.90" y2="139.80" stroke="#111" stroke-width="0.9" />
<line x1="338.90" y1="142.20" x2="338.90" y2="143.80" stroke="#111" stroke-width="0.9" />
<line x1="345.40" y1="142.20" x2="345.40" y2="143.80" stroke="#111" stroke-width="0.9" />
<line x1="351.90" y1="142.20" x2="351.90" y2="143.80" stroke="#111" stroke-width="0.9" />
<line x1="358.40" y1="142.20" x2="358.40" y2="143.80" stroke="#111" stroke-width="0.9" />
<line x1="364.90" y1="142.20" x2="364.90" y2="143.80" stroke="#111" stroke-width="0.9" />
<line x1="371.40" y1="142.20" x2="371.40" y2="143.80" stroke="#111" stroke-width="0.9" />
<line x1="377.90" y1="142.20" x2="377.90" y2="143.80" stroke="#111" stroke-width="0.9" />
<line x1="384.40" y1="142.20" x2="384.40" y2="143.80" stroke="#111" stroke-width="0.9" />
<line x1="390.90" y1="142.20" x2="390.90" y2="143.80" stroke="#111" stroke-width="0.9" />
<g filter="url(#grain)">
<ellipse cx="349.90" cy="169.00" rx="17.00" ry="6.00" transform="rotate(0 349.90 169.00)" fill="url(#g2)" fill-opacity="1.0"/>
<ellipse cx="364.90" cy="170.00" rx="10.00" ry="3.00" transform="rotate(0 364.90 170.00)" fill="url(#g1)" fill-opacity="0.45"/>
<ellipse cx="358.90" cy="191.00" rx="27.00" ry="17.00" transform="rotate(0 358.90 191.00)" fill="url(#g3)" fill-opacity="0.6"/>
</g>
<ellipse cx="375.50" cy="167.20" rx="3.80" ry="3.12" transform="rotate(-35 375.50 167.20)" fill="url(#g2)" fill-opacity="1.0"/>
<line x1="334.9" y1="180.50" x2="393.29999999999995" y2="178.90" stroke="#c03040" stroke-width="1.2"/>
<line x1="362.60" y1="148.00" x2="362.60" y2="206.40" stroke="#c03040" stroke-width="1.2" />
<rect x="369.60" y="154.20" width="18.9" height="18.2" fill="none" stroke="#2f5fb0" stroke-width="2"/>
<text x="338.40" y="153.60" font-size="5.2" text-anchor="start" font-weight="normal" fill="#b04050" font-style="italic" >33.8</text>
<text x="384.90" y="160.30" font-size="5.6" text-anchor="end" font-weight="normal" fill="#5a5aa0" >9.9</text>
<text x="338.40" y="204.30" font-size="5.2" text-anchor="start" font-weight="normal" fill="#b04050" font-style="italic" >24.7</text>
<text x="391.90" y="204.30" font-size="5.2" text-anchor="end" font-weight="normal" fill="#b04050" font-style="italic" >27</text>
<rect x="334.90" y="148.00" width="58.4" height="58.4" fill="none" stroke="#111" stroke-width="1.3"/>
<line x1="333.30" y1="152.00" x2="334.90" y2="152.00" stroke="#111" stroke-width="0.9" />
<line x1="333.30" y1="158.50" x2="334.90" y2="158.50" stroke="#111" stroke-width="0.9" />
<line x1="333.30" y1="165.00" x2="334.90" y2="165.00" stroke="#111" stroke-width="0.9" />
<line x1="333.30" y1="171.50" x2="334.90" y2="171.50" stroke="#111" stroke-width="0.9" />
<line x1="333.30" y1="178.00" x2="334.90" y2="178.00" stroke="#111" stroke-width="0.9" />
<line x1="333.30" y1="184.50" x2="334.90" y2="184.50" stroke="#111" stroke-width="0.9" />
<line x1="333.30" y1="191.00" x2="334.90" y2="191.00" stroke="#111" stroke-width="0.9" />
<line x1="333.30" y1="197.50" x2="334.90" y2="197.50" stroke="#111" stroke-width="0.9" />
<line x1="333.30" y1="204.00" x2="334.90" y2="204.00" stroke="#111" stroke-width="0.9" />
<line x1="338.90" y1="206.40" x2="338.90" y2="208.00" stroke="#111" stroke-width="0.9" />
<line x1="345.40" y1="206.40" x2="345.40" y2="208.00" stroke="#111" stroke-width="0.9" />
<line x1="351.90" y1="206.40" x2="351.90" y2="208.00" stroke="#111" stroke-width="0.9" />
<line x1="358.40" y1="206.40" x2="358.40" y2="208.00" stroke="#111" stroke-width="0.9" />
<line x1="364.90" y1="206.40" x2="364.90" y2="208.00" stroke="#111" stroke-width="0.9" />
<line x1="371.40" y1="206.40" x2="371.40" y2="208.00" stroke="#111" stroke-width="0.9" />
<line x1="377.90" y1="206.40" x2="377.90" y2="208.00" stroke="#111" stroke-width="0.9" />
<line x1="384.40" y1="206.40" x2="384.40" y2="208.00" stroke="#111" stroke-width="0.9" />
<line x1="390.90" y1="206.40" x2="390.90" y2="208.00" stroke="#111" stroke-width="0.9" />
<line x1="102.50" y1="217.00" x2="102.50" y2="240.50" stroke="#000" stroke-width="2" />
<path d="M102.50,212.50 L99.90,217.50 L105.10,217.50 Z" fill="#000"/>
<line x1="101.50" y1="240.00" x2="126.50" y2="240.00" stroke="#000" stroke-width="2" />
<path d="M131.50,240 L125.50,237.3 L125.50,242.7 Z" fill="#000"/>
<text x="102.00" y="253.80" font-size="10" text-anchor="start" font-weight="normal" fill="#000" >FSC-A</text>
<text transform="translate(85.00,234.50) rotate(-90)" x="0" y="0" font-size="10" text-anchor="middle" font-weight="normal" fill="#000">Log</text>
<text transform="translate(96.20,230.50) rotate(-90)" x="0" y="0" font-size="10" text-anchor="middle" font-weight="normal" fill="#000">INDO</text>
<line x1="165.00" y1="217.00" x2="165.00" y2="240.50" stroke="#000" stroke-width="2" />
<path d="M165.00,212.50 L162.40,217.50 L167.60,217.50 Z" fill="#000"/>
<line x1="164.00" y1="240.00" x2="189.00" y2="240.00" stroke="#000" stroke-width="2" />
<path d="M194.00,240 L188.00,237.3 L188.00,242.7 Z" fill="#000"/>
<text x="164.50" y="253.80" font-size="10" text-anchor="start" font-weight="normal" fill="#000" >FSC-A</text>
<text transform="translate(160.50,228.50) rotate(-90)" x="0" y="0" font-size="10" text-anchor="middle" font-weight="normal" fill="#000">SSC-A</text>
<line x1="230.00" y1="217.00" x2="230.00" y2="240.50" stroke="#000" stroke-width="2" />
<path d="M230.00,212.50 L227.40,217.50 L232.60,217.50 Z" fill="#000"/>
<line x1="229.00" y1="240.00" x2="254.00" y2="240.00" stroke="#000" stroke-width="2" />
<path d="M259.00,240 L253.00,237.3 L253.00,242.7 Z" fill="#000"/>
<text x="229.50" y="253.80" font-size="10" text-anchor="start" font-weight="normal" fill="#000" >CD3</text>
<text transform="translate(226.50,228.00) rotate(-90)" x="0" y="0" font-size="10" text-anchor="middle" font-weight="normal" fill="#000">CD4</text>
<line x1="294.20" y1="217.00" x2="294.20" y2="240.50" stroke="#000" stroke-width="2" />
<path d="M294.20,212.50 L291.60,217.50 L296.80,217.50 Z" fill="#000"/>
<line x1="293.20" y1="240.00" x2="318.20" y2="240.00" stroke="#000" stroke-width="2" />
<path d="M323.20,240 L317.20,237.3 L317.20,242.7 Z" fill="#000"/>
<text x="293.70" y="253.80" font-size="10" text-anchor="start" font-weight="normal" fill="#000" >CD4</text>
<text transform="translate(291.00,228.00) rotate(-90)" x="0" y="0" font-size="10" text-anchor="middle" font-weight="normal" fill="#000">CD8</text>
<line x1="355.80" y1="217.00" x2="355.80" y2="240.50" stroke="#000" stroke-width="2" />
<path d="M355.80,212.50 L353.20,217.50 L358.40,217.50 Z" fill="#000"/>
<line x1="354.80" y1="240.00" x2="379.80" y2="240.00" stroke="#000" stroke-width="2" />
<path d="M384.80,240 L378.80,237.3 L378.80,242.7 Z" fill="#000"/>
<text x="355.30" y="253.80" font-size="10" text-anchor="start" font-weight="normal" fill="#000" >CD45RA</text>
<text transform="translate(352.00,228.00) rotate(-90)" x="0" y="0" font-size="10" text-anchor="middle" font-weight="normal" fill="#000">CD27</text>
<text x="12.00" y="302.50" font-size="20" text-anchor="start" font-weight="bold" fill="#000" >B</text>
<rect x="84.00" y="295.10" width="5.80" height="5.80" rx="0.8" fill="#6b93c4" stroke="#0f1a2e" stroke-width="2.0"/>
<text x="95.80" y="302.10" font-size="13.8" text-anchor="start" font-weight="normal" fill="#000" textLength="46.00" lengthAdjust="spacingAndGlyphs" >HAART</text>
<path d="M86.75,315.86 L90.39,319.50 L86.75,323.14 L83.11,319.50 Z" fill="#cf5a5a" stroke="#120606" stroke-width="2.1" stroke-linejoin="round"/>
<text x="95.60" y="323.80" font-size="13.8" text-anchor="start" font-weight="normal" fill="#000" textLength="94.60" lengthAdjust="spacingAndGlyphs" >Prog. CD4&lt;350</text>
<circle cx="86.75" cy="340.60" r="4.20" fill="#1e9a5c" stroke="#0e7a44" stroke-width="1"/>
<rect x="84.9" y="339.2" width="0.9" height="2.8" fill="#a8e0c0"/>
<text x="95.80" y="345.10" font-size="13.8" text-anchor="start" font-weight="normal" fill="#000" textLength="26.00" lengthAdjust="spacingAndGlyphs" >Neg</text>
<line x1="49.60" y1="405.61" x2="49.60" y2="540.80" stroke="#000" stroke-width="2.2" />
<line x1="46.90" y1="540.00" x2="52.70" y2="540.00" stroke="#000" stroke-width="2" />
<line x1="49.60" y1="550.00" x2="49.60" y2="566.50" stroke="#000" stroke-width="2.2" />
<line x1="46.90" y1="550.90" x2="52.70" y2="550.90" stroke="#000" stroke-width="2" />
<line x1="48.60" y1="565.60" x2="209.80" y2="565.60" stroke="#000" stroke-width="2.1" />
<line x1="45.20" y1="406.51" x2="49.60" y2="406.51" stroke="#000" stroke-width="1.8" />
<text x="42.90" y="410.61" font-size="10" text-anchor="end" font-weight="normal" fill="#000" textLength="16.05" lengthAdjust="spacingAndGlyphs" >500</text>
<line x1="45.20" y1="449.84" x2="49.60" y2="449.84" stroke="#000" stroke-width="1.8" />
<text x="42.90" y="453.94" font-size="10" text-anchor="end" font-weight="normal" fill="#000" textLength="16.05" lengthAdjust="spacingAndGlyphs" >400</text>
<line x1="45.20" y1="493.17" x2="49.60" y2="493.17" stroke="#000" stroke-width="1.8" />
<text x="42.90" y="497.27" font-size="10" text-anchor="end" font-weight="normal" fill="#000" textLength="16.05" lengthAdjust="spacingAndGlyphs" >300</text>
<line x1="45.20" y1="536.50" x2="49.60" y2="536.50" stroke="#000" stroke-width="1.8" />
<text x="42.90" y="540.60" font-size="10" text-anchor="end" font-weight="normal" fill="#000" textLength="16.05" lengthAdjust="spacingAndGlyphs" >200</text>
<text x="45.20" y="570.30" font-size="10" text-anchor="end" font-weight="normal" fill="#000" textLength="5.35" lengthAdjust="spacingAndGlyphs" >0</text>
<line x1="44.50" y1="566.20" x2="49.60" y2="566.20" stroke="#000" stroke-width="1.3" />
<text transform="translate(11.60,482.25) rotate(-90)" x="0" y="0" font-size="14.6" text-anchor="middle" font-weight="normal" fill="#000" textLength="78.00" lengthAdjust="spacingAndGlyphs">CD8&#945; MdFI</text>
<line x1="78.00" y1="396.00" x2="129.40" y2="396.00" stroke="#000" stroke-width="2" />
<polygon points="104.10,387.40 104.89,389.31 106.95,389.47 105.38,390.82 105.86,392.83 104.10,391.75 102.34,392.83 102.82,390.82 101.25,389.47 103.31,389.31" fill="#1a1a1a"/>
<line x1="130.40" y1="406.30" x2="181.00" y2="406.30" stroke="#000" stroke-width="2" />
<polygon points="156.30,397.20 157.09,399.11 159.15,399.27 157.58,400.62 158.06,402.63 156.30,401.55 154.54,402.63 155.02,400.62 153.45,399.27 155.51,399.11" fill="#1a1a1a"/>
<line x1="59.20" y1="476.80" x2="94.40" y2="476.80" stroke="#4a8ad0" stroke-width="2.4" />
<rect x="74.10" y="407.40" width="5.60" height="5.60" rx="0.8" fill="#6b93c4" stroke="#0f1a2e" stroke-width="2.0"/>
<rect x="74.10" y="445.50" width="5.60" height="5.60" rx="0.8" fill="#6b93c4" stroke="#0f1a2e" stroke-width="2.0"/>
<rect x="74.10" y="460.00" width="5.60" height="5.60" rx="0.8" fill="#6b93c4" stroke="#0f1a2e" stroke-width="2.0"/>
<rect x="64.70" y="470.60" width="5.60" height="5.60" rx="0.8" fill="#6b93c4" stroke="#0f1a2e" stroke-width="2.0"/>
<rect x="74.10" y="479.90" width="5.60" height="5.60" rx="0.8" fill="#6b93c4" stroke="#0f1a2e" stroke-width="2.0"/>
<rect x="64.70" y="482.80" width="5.60" height="5.60" rx="0.8" fill="#6b93c4" stroke="#0f1a2e" stroke-width="2.0"/>
<rect x="83.40" y="487.40" width="5.60" height="5.60" rx="0.8" fill="#6b93c4" stroke="#0f1a2e" stroke-width="2.0"/>
<rect x="74.10" y="489.90" width="5.60" height="5.60" rx="0.8" fill="#6b93c4" stroke="#0f1a2e" stroke-width="2.0"/>
<rect x="74.10" y="501.40" width="5.60" height="5.60" rx="0.8" fill="#6b93c4" stroke="#0f1a2e" stroke-width="2.0"/>
<rect x="74.10" y="517.80" width="5.60" height="5.60" rx="0.8" fill="#6b93c4" stroke="#0f1a2e" stroke-width="2.0"/>
<line x1="59.20" y1="476.80" x2="66.00" y2="476.80" stroke="#4a8ad0" stroke-width="2.4" />
<path d="M118.70,486.82 L122.08,490.20 L118.70,493.58 L115.32,490.20 Z" fill="#cf5a5a" stroke="#120606" stroke-width="2.2" stroke-linejoin="round"/>
<path d="M130.20,485.12 L133.58,488.50 L130.20,491.88 L126.82,488.50 Z" fill="#cf5a5a" stroke="#120606" stroke-width="2.2" stroke-linejoin="round"/>
<path d="M141.30,479.12 L144.68,482.50 L141.30,485.88 L137.92,482.50 Z" fill="#cf5a5a" stroke="#120606" stroke-width="2.2" stroke-linejoin="round"/>
<path d="M130.20,496.42 L133.58,499.80 L130.20,503.18 L126.82,499.80 Z" fill="#cf5a5a" stroke="#120606" stroke-width="2.2" stroke-linejoin="round"/>
<path d="M141.30,499.92 L144.68,503.30 L141.30,506.68 L137.92,503.30 Z" fill="#cf5a5a" stroke="#120606" stroke-width="2.2" stroke-linejoin="round"/>
<path d="M130.20,509.52 L133.58,512.90 L130.20,516.28 L126.82,512.90 Z" fill="#cf5a5a" stroke="#120606" stroke-width="2.2" stroke-linejoin="round"/>
<path d="M118.70,521.42 L122.08,524.80 L118.70,528.18 L115.32,524.80 Z" fill="#cf5a5a" stroke="#120606" stroke-width="2.2" stroke-linejoin="round"/>
<path d="M130.20,524.92 L133.58,528.30 L130.20,531.68 L126.82,528.30 Z" fill="#cf5a5a" stroke="#120606" stroke-width="2.2" stroke-linejoin="round"/>
<path d="M130.20,535.82 L133.58,539.20 L130.20,542.58 L126.82,539.20 Z" fill="#cf5a5a" stroke="#120606" stroke-width="2.2" stroke-linejoin="round"/>
<path d="M141.30,535.82 L144.68,539.20 L141.30,542.58 L137.92,539.20 Z" fill="#cf5a5a" stroke="#120606" stroke-width="2.2" stroke-linejoin="round"/>
<line x1="111.90" y1="510.60" x2="147.70" y2="510.60" stroke="#e8402a" stroke-width="2.4" />
<line x1="166.00" y1="477.60" x2="201.20" y2="477.60" stroke="#149a5a" stroke-width="2.4" />
<circle cx="183.80" cy="454.00" r="4.25" fill="#1e9a5c" stroke="#0e7a44" stroke-width="1.1"/>
<rect x="182.20" y="452.80" width="0.8" height="2.4" fill="#9fd8b8"/>
<circle cx="194.80" cy="453.10" r="4.25" fill="#1e9a5c" stroke="#0e7a44" stroke-width="1.1"/>
<rect x="193.20" y="451.90" width="0.8" height="2.4" fill="#9fd8b8"/>
<circle cx="172.10" cy="489.40" r="4.25" fill="#1e9a5c" stroke="#0e7a44" stroke-width="1.1"/>
<rect x="170.50" y="488.20" width="0.8" height="2.4" fill="#9fd8b8"/>
<circle cx="183.30" cy="489.40" r="4.25" fill="#1e9a5c" stroke="#0e7a44" stroke-width="1.1"/>
<rect x="181.70" y="488.20" width="0.8" height="2.4" fill="#9fd8b8"/>
<circle cx="183.30" cy="501.30" r="4.25" fill="#1e9a5c" stroke="#0e7a44" stroke-width="1.1"/>
<rect x="181.70" y="500.10" width="0.8" height="2.4" fill="#9fd8b8"/>
<text x="245.00" y="303.80" font-size="20" text-anchor="start" font-weight="bold" fill="#000" >C</text>
<circle cx="319.40" cy="284.00" r="2.80" fill="#fff" stroke="#000" stroke-width="2.0"/>
<text x="330.50" y="287.70" font-size="13.5" text-anchor="start" font-weight="normal" fill="#000" textLength="35.00" lengthAdjust="spacingAndGlyphs" >LTNP</text>
<path d="M315.90,295.20 L322.90,295.20 L319.40,301.60 Z" fill="#f7931e"/>
<text x="330.50" y="302.50" font-size="13.5" text-anchor="start" font-weight="normal" fill="#000" textLength="66.40" lengthAdjust="spacingAndGlyphs" >Controllers</text>
<rect x="316.75" y="310.85" width="5.30" height="5.30" rx="0.8" fill="#6b93c4" stroke="#0f1a2e" stroke-width="1.9"/>
<text x="330.50" y="316.60" font-size="13.5" text-anchor="start" font-weight="normal" fill="#000" textLength="45.20" lengthAdjust="spacingAndGlyphs" >HAART</text>
<path d="M414.80,281.40 L417.90,284.50 L414.80,287.60 L411.70,284.50 Z" fill="#c95050" stroke="#120606" stroke-width="2.0" stroke-linejoin="round"/>
<text x="426.20" y="288.50" font-size="13.5" text-anchor="start" font-weight="normal" fill="#000" textLength="94.60" lengthAdjust="spacingAndGlyphs" >Prog. CD4&lt;350</text>
<path d="M414.80,296.00 L417.90,299.10 L414.80,302.20 L411.70,299.10 Z" fill="#c29ab5" stroke="#120606" stroke-width="2.0" stroke-linejoin="round"/>
<text x="426.20" y="302.90" font-size="13.5" text-anchor="start" font-weight="normal" fill="#000" textLength="94.60" lengthAdjust="spacingAndGlyphs" >Prog. CD4&gt;350</text>
<circle cx="414.80" cy="314.70" r="3.25" fill="#1e9a5c" stroke="#0e7a44" stroke-width="0.9"/>
<text x="426.20" y="317.60" font-size="13.5" text-anchor="start" font-weight="normal" fill="#000" textLength="25.60" lengthAdjust="spacingAndGlyphs" >Neg</text>
<line x1="308.40" y1="336.10" x2="308.40" y2="469.60" stroke="#000" stroke-width="2" />
<line x1="307.40" y1="469.30" x2="515.00" y2="469.30" stroke="#000" stroke-width="2" />
<line x1="304.20" y1="336.90" x2="308.40" y2="336.90" stroke="#000" stroke-width="2" />
<text x="302.20" y="341.00" font-size="10" text-anchor="end" font-weight="normal" fill="#000" textLength="26.75" lengthAdjust="spacingAndGlyphs" >12000</text>
<line x1="304.20" y1="374.60" x2="308.40" y2="374.60" stroke="#000" stroke-width="2" />
<text x="302.20" y="378.70" font-size="10" text-anchor="end" font-weight="normal" fill="#000" textLength="26.75" lengthAdjust="spacingAndGlyphs" >10000</text>
<line x1="304.20" y1="412.30" x2="308.40" y2="412.30" stroke="#000" stroke-width="2" />
<text x="302.20" y="416.40" font-size="10" text-anchor="end" font-weight="normal" fill="#000" textLength="21.40" lengthAdjust="spacingAndGlyphs" >8000</text>
<line x1="304.20" y1="450.00" x2="308.40" y2="450.00" stroke="#000" stroke-width="2" />
<text x="302.20" y="454.10" font-size="10" text-anchor="end" font-weight="normal" fill="#000" textLength="21.40" lengthAdjust="spacingAndGlyphs" >6000</text>
<line x1="308.40" y1="489.55" x2="308.40" y2="623.50" stroke="#000" stroke-width="2" />
<line x1="307.40" y1="623.30" x2="515.00" y2="623.30" stroke="#000" stroke-width="2" />
<line x1="304.20" y1="490.35" x2="308.40" y2="490.35" stroke="#000" stroke-width="2" />
<text x="302.20" y="494.45" font-size="10" text-anchor="end" font-weight="normal" fill="#000" textLength="21.40" lengthAdjust="spacingAndGlyphs" >2500</text>
<line x1="304.20" y1="534.80" x2="308.40" y2="534.80" stroke="#000" stroke-width="2" />
<text x="302.20" y="538.90" font-size="10" text-anchor="end" font-weight="normal" fill="#000" textLength="21.40" lengthAdjust="spacingAndGlyphs" >2000</text>
<line x1="304.20" y1="579.25" x2="308.40" y2="579.25" stroke="#000" stroke-width="2" />
<text x="302.20" y="583.35" font-size="10" text-anchor="end" font-weight="normal" fill="#000" textLength="21.40" lengthAdjust="spacingAndGlyphs" >1500</text>
<line x1="304.20" y1="623.70" x2="308.40" y2="623.70" stroke="#000" stroke-width="2" />
<text x="302.20" y="627.80" font-size="10" text-anchor="end" font-weight="normal" fill="#000" textLength="21.40" lengthAdjust="spacingAndGlyphs" >1000</text>
<text transform="translate(264.30,394.40) rotate(-90)" x="0" y="0" font-size="15.3" text-anchor="middle" font-weight="normal" fill="#000" textLength="78.40" lengthAdjust="spacingAndGlyphs">CD8&#945; MdFI</text>
<text transform="translate(268.70,548.70) rotate(-90)" x="0" y="0" font-size="15.3" text-anchor="middle" font-weight="normal" fill="#000" textLength="77.80" lengthAdjust="spacingAndGlyphs">CD8&#946; MdFI</text>
<polygon points="427.60,332.90 428.39,334.81 430.45,334.97 428.88,336.32 429.36,338.33 427.60,337.25 425.84,338.33 426.32,336.32 424.75,334.97 426.81,334.81" fill="#1a1a1a"/>
<polygon points="434.20,332.90 434.99,334.81 437.05,334.97 435.48,336.32 435.96,338.33 434.20,337.25 432.44,338.33 432.92,336.32 431.35,334.97 433.41,334.81" fill="#1a1a1a"/>
<polygon points="460.20,332.90 460.99,334.81 463.05,334.97 461.48,336.32 461.96,338.33 460.20,337.25 458.44,338.33 458.92,336.32 457.35,334.97 459.41,334.81" fill="#1a1a1a"/>
<polygon points="466.70,332.90 467.49,334.81 469.55,334.97 467.98,336.32 468.46,338.33 466.70,337.25 464.94,338.33 465.42,336.32 463.85,334.97 465.91,334.81" fill="#1a1a1a"/>
<polygon points="428.40,487.40 429.19,489.31 431.25,489.47 429.68,490.82 430.16,492.83 428.40,491.75 426.64,492.83 427.12,490.82 425.55,489.47 427.61,489.31" fill="#1a1a1a"/>
<polygon points="434.90,487.40 435.69,489.31 437.75,489.47 436.18,490.82 436.66,492.83 434.90,491.75 433.14,492.83 433.62,490.82 432.05,489.47 434.11,489.31" fill="#1a1a1a"/>
<polygon points="463.80,487.40 464.59,489.31 466.65,489.47 465.08,490.82 465.56,492.83 463.80,491.75 462.04,492.83 462.52,490.82 460.95,489.47 463.01,489.31" fill="#1a1a1a"/>
<circle cx="317.60" cy="374.20" r="2.60" fill="#fff" stroke="#000" stroke-width="1.9"/>
<circle cx="325.50" cy="374.60" r="2.60" fill="#fff" stroke="#000" stroke-width="1.9"/>
<circle cx="317.60" cy="386.00" r="2.60" fill="#fff" stroke="#000" stroke-width="1.9"/>
<circle cx="325.50" cy="390.60" r="2.60" fill="#fff" stroke="#000" stroke-width="1.9"/>
<circle cx="333.20" cy="390.60" r="2.60" fill="#fff" stroke="#000" stroke-width="1.9"/>
<circle cx="333.20" cy="394.10" r="2.60" fill="#fff" stroke="#000" stroke-width="1.9"/>
<circle cx="317.60" cy="399.90" r="2.60" fill="#fff" stroke="#000" stroke-width="1.9"/>
<circle cx="325.50" cy="400.20" r="2.60" fill="#fff" stroke="#000" stroke-width="1.9"/>
<circle cx="325.50" cy="426.80" r="2.60" fill="#fff" stroke="#000" stroke-width="1.9"/>
<circle cx="333.20" cy="426.80" r="2.60" fill="#fff" stroke="#000" stroke-width="1.9"/>
<line x1="314.40" y1="396.30" x2="337.00" y2="396.30" stroke="#000" stroke-width="2.4" />
<path d="M356.70,355.90 L363.10,355.90 L359.90,361.50 Z" fill="#f7931e"/>
<path d="M352.20,370.30 L358.60,370.30 L355.40,375.90 Z" fill="#f7931e"/>
<path d="M356.70,370.80 L363.10,370.80 L359.90,376.40 Z" fill="#f7931e"/>
<path d="M356.70,383.20 L363.10,383.20 L359.90,388.80 Z" fill="#f7931e"/>
<path d="M361.50,381.30 L367.90,381.30 L364.70,386.90 Z" fill="#f7931e"/>
<path d="M352.20,401.50 L358.60,401.50 L355.40,407.10 Z" fill="#f7931e"/>
<path d="M356.70,402.50 L363.10,402.50 L359.90,408.10 Z" fill="#f7931e"/>
<path d="M352.20,409.70 L358.60,409.70 L355.40,415.30 Z" fill="#f7931e"/>
<path d="M357.00,413.50 L363.40,413.50 L360.20,419.10 Z" fill="#f7931e"/>
<path d="M361.50,413.10 L367.90,413.10 L364.70,418.70 Z" fill="#f7931e"/>
<line x1="348.80" y1="393.80" x2="371.40" y2="393.80" stroke="#f7931e" stroke-width="2.8" />
<rect x="391.85" y="345.35" width="5.10" height="5.10" rx="0.8" fill="#6b93c4" stroke="#0f1a2e" stroke-width="1.8"/>
<rect x="391.85" y="353.70" width="5.10" height="5.10" rx="0.8" fill="#6b93c4" stroke="#0f1a2e" stroke-width="1.8"/>
<rect x="384.15" y="374.55" width="5.10" height="5.10" rx="0.8" fill="#6b93c4" stroke="#0f1a2e" stroke-width="1.8"/>
<rect x="391.85" y="376.75" width="5.10" height="5.10" rx="0.8" fill="#6b93c4" stroke="#0f1a2e" stroke-width="1.8"/>
<rect x="399.75" y="372.25" width="5.10" height="5.10" rx="0.8" fill="#6b93c4" stroke="#0f1a2e" stroke-width="1.8"/>
<rect x="399.75" y="382.05" width="5.10" height="5.10" rx="0.8" fill="#6b93c4" stroke="#0f1a2e" stroke-width="1.8"/>
<rect x="391.85" y="386.45" width="5.10" height="5.10" rx="0.8" fill="#6b93c4" stroke="#0f1a2e" stroke-width="1.8"/>
<rect x="383.95" y="395.45" width="5.10" height="5.10" rx="0.8" fill="#6b93c4" stroke="#0f1a2e" stroke-width="1.8"/>
<rect x="392.15" y="395.45" width="5.10" height="5.10" rx="0.8" fill="#6b93c4" stroke="#0f1a2e" stroke-width="1.8"/>
<rect x="399.85" y="395.45" width="5.10" height="5.10" rx="0.8" fill="#6b93c4" stroke="#0f1a2e" stroke-width="1.8"/>
<rect x="399.85" y="411.75" width="5.10" height="5.10" rx="0.8" fill="#6b93c4" stroke="#0f1a2e" stroke-width="1.8"/>
<rect x="392.15" y="419.45" width="5.10" height="5.10" rx="0.8" fill="#6b93c4" stroke="#0f1a2e" stroke-width="1.8"/>
<rect x="392.15" y="431.65" width="5.10" height="5.10" rx="0.8" fill="#6b93c4" stroke="#0f1a2e" stroke-width="1.8"/>
<rect x="392.15" y="446.15" width="5.10" height="5.10" rx="0.8" fill="#6b93c4" stroke="#0f1a2e" stroke-width="1.8"/>
<line x1="382.70" y1="394.40" x2="406.00" y2="394.40" stroke="#4f8fd8" stroke-width="2.6" />
<path d="M428.90,372.68 L431.72,375.50 L428.90,378.32 L426.08,375.50 Z" fill="#cf5a5a" stroke="#120606" stroke-width="1.8" stroke-linejoin="round"/>
<path d="M433.70,377.78 L436.52,380.60 L433.70,383.42 L430.88,380.60 Z" fill="#cf5a5a" stroke="#120606" stroke-width="1.8" stroke-linejoin="round"/>
<path d="M428.80,384.78 L431.62,387.60 L428.80,390.42 L425.98,387.60 Z" fill="#cf5a5a" stroke="#120606" stroke-width="1.8" stroke-linejoin="round"/>
<path d="M425.90,388.38 L428.72,391.20 L425.90,394.02 L423.08,391.20 Z" fill="#cf5a5a" stroke="#120606" stroke-width="1.8" stroke-linejoin="round"/>
<path d="M433.60,389.38 L436.42,392.20 L433.60,395.02 L430.78,392.20 Z" fill="#cf5a5a" stroke="#120606" stroke-width="1.8" stroke-linejoin="round"/>
<path d="M424.20,394.98 L427.02,397.80 L424.20,400.62 L421.38,397.80 Z" fill="#cf5a5a" stroke="#120606" stroke-width="1.8" stroke-linejoin="round"/>
<path d="M429.00,396.18 L431.82,399.00 L429.00,401.82 L426.18,399.00 Z" fill="#cf5a5a" stroke="#120606" stroke-width="1.8" stroke-linejoin="round"/>
<path d="M429.00,408.18 L431.82,411.00 L429.00,413.82 L426.18,411.00 Z" fill="#cf5a5a" stroke="#120606" stroke-width="1.8" stroke-linejoin="round"/>
<path d="M424.00,421.38 L426.82,424.20 L424.00,427.02 L421.18,424.20 Z" fill="#cf5a5a" stroke="#120606" stroke-width="1.8" stroke-linejoin="round"/>
<path d="M426.50,418.68 L429.32,421.50 L426.50,424.32 L423.68,421.50 Z" fill="#cf5a5a" stroke="#120606" stroke-width="1.8" stroke-linejoin="round"/>
<path d="M428.75,423.48 L431.57,426.30 L428.75,429.12 L425.93,426.30 Z" fill="#cf5a5a" stroke="#120606" stroke-width="1.8" stroke-linejoin="round"/>
<path d="M433.60,421.18 L436.42,424.00 L433.60,426.82 L430.78,424.00 Z" fill="#cf5a5a" stroke="#120606" stroke-width="1.8" stroke-linejoin="round"/>
<path d="M433.60,436.48 L436.42,439.30 L433.60,442.12 L430.78,439.30 Z" fill="#cf5a5a" stroke="#120606" stroke-width="1.8" stroke-linejoin="round"/>
<path d="M428.75,442.98 L431.57,445.80 L428.75,448.62 L425.93,445.80 Z" fill="#cf5a5a" stroke="#120606" stroke-width="1.8" stroke-linejoin="round"/>
<line x1="416.70" y1="408.30" x2="440.60" y2="408.30" stroke="#e83a2a" stroke-width="2.6" />
<path d="M463.50,368.18 L466.32,371.00 L463.50,373.82 L460.68,371.00 Z" fill="#c29ab5" stroke="#120606" stroke-width="1.8" stroke-linejoin="round"/>
<path d="M463.50,383.58 L466.32,386.40 L463.50,389.22 L460.68,386.40 Z" fill="#c29ab5" stroke="#120606" stroke-width="1.8" stroke-linejoin="round"/>
<path d="M458.50,399.58 L461.32,402.40 L458.50,405.22 L455.68,402.40 Z" fill="#c29ab5" stroke="#120606" stroke-width="1.8" stroke-linejoin="round"/>
<path d="M465.70,399.48 L468.52,402.30 L465.70,405.12 L462.88,402.30 Z" fill="#c29ab5" stroke="#120606" stroke-width="1.8" stroke-linejoin="round"/>
<path d="M468.40,402.58 L471.22,405.40 L468.40,408.22 L465.58,405.40 Z" fill="#c29ab5" stroke="#120606" stroke-width="1.8" stroke-linejoin="round"/>
<path d="M463.50,403.88 L466.32,406.70 L463.50,409.52 L460.68,406.70 Z" fill="#c29ab5" stroke="#120606" stroke-width="1.8" stroke-linejoin="round"/>
<path d="M461.80,413.48 L464.62,416.30 L461.80,419.12 L458.98,416.30 Z" fill="#c29ab5" stroke="#120606" stroke-width="1.8" stroke-linejoin="round"/>
<path d="M465.70,414.48 L468.52,417.30 L465.70,420.12 L462.88,417.30 Z" fill="#c29ab5" stroke="#120606" stroke-width="1.8" stroke-linejoin="round"/>
<path d="M458.50,416.38 L461.32,419.20 L458.50,422.02 L455.68,419.20 Z" fill="#c29ab5" stroke="#120606" stroke-width="1.8" stroke-linejoin="round"/>
<path d="M463.30,417.38 L466.12,420.20 L463.30,423.02 L460.48,420.20 Z" fill="#c29ab5" stroke="#120606" stroke-width="1.8" stroke-linejoin="round"/>
<path d="M468.10,419.28 L470.92,422.10 L468.10,424.92 L465.28,422.10 Z" fill="#c29ab5" stroke="#120606" stroke-width="1.8" stroke-linejoin="round"/>
<path d="M463.50,427.48 L466.32,430.30 L463.50,433.12 L460.68,430.30 Z" fill="#c29ab5" stroke="#120606" stroke-width="1.8" stroke-linejoin="round"/>
<line x1="452.20" y1="409.50" x2="474.80" y2="409.50" stroke="#cc77c0" stroke-width="2.6" />
<circle cx="505.80" cy="339.10" r="3.10" fill="#1e9a5c" stroke="#0e7a44" stroke-width="0.8"/>
<circle cx="497.90" cy="345.40" r="3.10" fill="#1e9a5c" stroke="#0e7a44" stroke-width="0.8"/>
<circle cx="490.20" cy="349.20" r="3.10" fill="#1e9a5c" stroke="#0e7a44" stroke-width="0.8"/>
<circle cx="497.90" cy="354.00" r="3.10" fill="#1e9a5c" stroke="#0e7a44" stroke-width="0.8"/>
<circle cx="497.90" cy="363.80" r="3.10" fill="#1e9a5c" stroke="#0e7a44" stroke-width="0.8"/>
<circle cx="505.80" cy="374.70" r="3.10" fill="#1e9a5c" stroke="#0e7a44" stroke-width="0.8"/>
<circle cx="489.70" cy="380.00" r="3.10" fill="#1e9a5c" stroke="#0e7a44" stroke-width="0.8"/>
<circle cx="497.90" cy="382.70" r="3.10" fill="#1e9a5c" stroke="#0e7a44" stroke-width="0.8"/>
<circle cx="490.20" cy="388.80" r="3.10" fill="#1e9a5c" stroke="#0e7a44" stroke-width="0.8"/>
<circle cx="497.90" cy="392.30" r="3.10" fill="#1e9a5c" stroke="#0e7a44" stroke-width="0.8"/>
<circle cx="505.80" cy="390.40" r="3.10" fill="#1e9a5c" stroke="#0e7a44" stroke-width="0.8"/>
<circle cx="490.20" cy="402.00" r="3.10" fill="#1e9a5c" stroke="#0e7a44" stroke-width="0.8"/>
<circle cx="497.90" cy="405.40" r="3.10" fill="#1e9a5c" stroke="#0e7a44" stroke-width="0.8"/>
<circle cx="497.90" cy="418.10" r="3.10" fill="#1e9a5c" stroke="#0e7a44" stroke-width="0.8"/>
<line x1="486.30" y1="377.10" x2="508.90" y2="377.10" stroke="#12955a" stroke-width="2.8" />
<circle cx="325.20" cy="515.50" r="2.60" fill="#fff" stroke="#000" stroke-width="1.9"/>
<circle cx="333.30" cy="528.10" r="2.60" fill="#fff" stroke="#000" stroke-width="1.9"/>
<circle cx="325.20" cy="534.90" r="2.60" fill="#fff" stroke="#000" stroke-width="1.9"/>
<circle cx="317.50" cy="562.60" r="2.60" fill="#fff" stroke="#000" stroke-width="1.9"/>
<circle cx="325.20" cy="559.40" r="2.60" fill="#fff" stroke="#000" stroke-width="1.9"/>
<circle cx="329.50" cy="560.50" r="2.60" fill="#fff" stroke="#000" stroke-width="1.9"/>
<circle cx="333.30" cy="563.70" r="2.60" fill="#fff" stroke="#000" stroke-width="1.9"/>
<circle cx="325.20" cy="566.70" r="2.60" fill="#fff" stroke="#000" stroke-width="1.9"/>
<circle cx="325.20" cy="579.30" r="2.60" fill="#fff" stroke="#000" stroke-width="1.9"/>
<circle cx="325.20" cy="594.20" r="2.60" fill="#fff" stroke="#000" stroke-width="1.9"/>
<line x1="314.30" y1="556.10" x2="336.80" y2="556.10" stroke="#000" stroke-width="2.4" />
<path d="M353.70,533.70 L360.10,533.70 L356.90,539.30 Z" fill="#f7931e"/>
<path d="M351.50,537.50 L357.90,537.50 L354.70,543.10 Z" fill="#f7931e"/>
<path d="M356.40,538.00 L362.80,538.00 L359.60,543.60 Z" fill="#f7931e"/>
<path d="M361.60,535.30 L368.00,535.30 L364.80,540.90 Z" fill="#f7931e"/>
<path d="M361.60,545.10 L368.00,545.10 L364.80,550.70 Z" fill="#f7931e"/>
<path d="M356.40,548.90 L362.80,548.90 L359.60,554.50 Z" fill="#f7931e"/>
<path d="M356.40,561.50 L362.80,561.50 L359.60,567.10 Z" fill="#f7931e"/>
<path d="M351.50,574.80 L357.90,574.80 L354.70,580.40 Z" fill="#f7931e"/>
<path d="M356.40,581.10 L362.80,581.10 L359.60,586.70 Z" fill="#f7931e"/>
<path d="M361.60,577.20 L368.00,577.20 L364.80,582.80 Z" fill="#f7931e"/>
<line x1="348.20" y1="557.20" x2="371.60" y2="557.20" stroke="#f7931e" stroke-width="2.8" />
<rect x="383.85" y="519.25" width="5.10" height="5.10" rx="0.8" fill="#6b93c4" stroke="#0f1a2e" stroke-width="1.8"/>
<rect x="391.55" y="523.35" width="5.10" height="5.10" rx="0.8" fill="#6b93c4" stroke="#0f1a2e" stroke-width="1.8"/>
<rect x="399.45" y="527.95" width="5.10" height="5.10" rx="0.8" fill="#6b93c4" stroke="#0f1a2e" stroke-width="1.8"/>
<rect x="391.55" y="532.55" width="5.10" height="5.10" rx="0.8" fill="#6b93c4" stroke="#0f1a2e" stroke-width="1.8"/>
<rect x="391.55" y="555.75" width="5.10" height="5.10" rx="0.8" fill="#6b93c4" stroke="#0f1a2e" stroke-width="1.8"/>
<rect x="383.85" y="564.15" width="5.10" height="5.10" rx="0.8" fill="#6b93c4" stroke="#0f1a2e" stroke-width="1.8"/>
<rect x="391.55" y="564.15" width="5.10" height="5.10" rx="0.8" fill="#6b93c4" stroke="#0f1a2e" stroke-width="1.8"/>
<rect x="399.45" y="564.15" width="5.10" height="5.10" rx="0.8" fill="#6b93c4" stroke="#0f1a2e" stroke-width="1.8"/>
<rect x="387.75" y="570.65" width="5.10" height="5.10" rx="0.8" fill="#6b93c4" stroke="#0f1a2e" stroke-width="1.8"/>
<rect x="383.85" y="574.25" width="5.10" height="5.10" rx="0.8" fill="#6b93c4" stroke="#0f1a2e" stroke-width="1.8"/>
<rect x="391.55" y="575.05" width="5.10" height="5.10" rx="0.8" fill="#6b93c4" stroke="#0f1a2e" stroke-width="1.8"/>
<rect x="399.45" y="572.65" width="5.10" height="5.10" rx="0.8" fill="#6b93c4" stroke="#0f1a2e" stroke-width="1.8"/>
<rect x="391.55" y="586.95" width="5.10" height="5.10" rx="0.8" fill="#6b93c4" stroke="#0f1a2e" stroke-width="1.8"/>
<rect x="399.45" y="585.15" width="5.10" height="5.10" rx="0.8" fill="#6b93c4" stroke="#0f1a2e" stroke-width="1.8"/>
<line x1="382.60" y1="560.50" x2="406.00" y2="560.50" stroke="#4f8fd8" stroke-width="2.6" />
<path d="M433.20,521.28 L436.02,524.10 L433.20,526.92 L430.38,524.10 Z" fill="#cf5a5a" stroke="#120606" stroke-width="1.8" stroke-linejoin="round"/>
<path d="M428.70,525.68 L431.52,528.50 L428.70,531.32 L425.88,528.50 Z" fill="#cf5a5a" stroke="#120606" stroke-width="1.8" stroke-linejoin="round"/>
<path d="M428.70,552.88 L431.52,555.70 L428.70,558.52 L425.88,555.70 Z" fill="#cf5a5a" stroke="#120606" stroke-width="1.8" stroke-linejoin="round"/>
<path d="M423.90,564.58 L426.72,567.40 L423.90,570.22 L421.08,567.40 Z" fill="#cf5a5a" stroke="#120606" stroke-width="1.8" stroke-linejoin="round"/>
<path d="M433.50,568.48 L436.32,571.30 L433.50,574.12 L430.68,571.30 Z" fill="#cf5a5a" stroke="#120606" stroke-width="1.8" stroke-linejoin="round"/>
<path d="M428.75,571.58 L431.57,574.40 L428.75,577.22 L425.93,574.40 Z" fill="#cf5a5a" stroke="#120606" stroke-width="1.8" stroke-linejoin="round"/>
<path d="M426.30,577.88 L429.12,580.70 L426.30,583.52 L423.48,580.70 Z" fill="#cf5a5a" stroke="#120606" stroke-width="1.8" stroke-linejoin="round"/>
<path d="M431.20,577.88 L434.02,580.70 L431.20,583.52 L428.38,580.70 Z" fill="#cf5a5a" stroke="#120606" stroke-width="1.8" stroke-linejoin="round"/>
<path d="M423.50,582.98 L426.32,585.80 L423.50,588.62 L420.68,585.80 Z" fill="#cf5a5a" stroke="#120606" stroke-width="1.8" stroke-linejoin="round"/>
<path d="M428.75,584.08 L431.57,586.90 L428.75,589.72 L425.93,586.90 Z" fill="#cf5a5a" stroke="#120606" stroke-width="1.8" stroke-linejoin="round"/>
<path d="M433.60,582.18 L436.42,585.00 L433.60,587.82 L430.78,585.00 Z" fill="#cf5a5a" stroke="#120606" stroke-width="1.8" stroke-linejoin="round"/>
<path d="M423.50,585.58 L426.32,588.40 L423.50,591.22 L420.68,588.40 Z" fill="#cf5a5a" stroke="#120606" stroke-width="1.8" stroke-linejoin="round"/>
<path d="M433.60,586.98 L436.42,589.80 L433.60,592.62 L430.78,589.80 Z" fill="#cf5a5a" stroke="#120606" stroke-width="1.8" stroke-linejoin="round"/>
<path d="M428.75,594.88 L431.57,597.70 L428.75,600.52 L425.93,597.70 Z" fill="#cf5a5a" stroke="#120606" stroke-width="1.8" stroke-linejoin="round"/>
<line x1="417.30" y1="573.10" x2="440.60" y2="573.10" stroke="#e83a2a" stroke-width="2.6" />
<path d="M463.30,497.38 L466.12,500.20 L463.30,503.02 L460.48,500.20 Z" fill="#c29ab5" stroke="#120606" stroke-width="1.8" stroke-linejoin="round"/>
<path d="M463.30,535.98 L466.12,538.80 L463.30,541.62 L460.48,538.80 Z" fill="#c29ab5" stroke="#120606" stroke-width="1.8" stroke-linejoin="round"/>
<path d="M468.10,547.78 L470.92,550.60 L468.10,553.42 L465.28,550.60 Z" fill="#c29ab5" stroke="#120606" stroke-width="1.8" stroke-linejoin="round"/>
<path d="M463.30,554.78 L466.12,557.60 L463.30,560.42 L460.48,557.60 Z" fill="#c29ab5" stroke="#120606" stroke-width="1.8" stroke-linejoin="round"/>
<path d="M468.10,560.48 L470.92,563.30 L468.10,566.12 L465.28,563.30 Z" fill="#c29ab5" stroke="#120606" stroke-width="1.8" stroke-linejoin="round"/>
<path d="M458.60,562.68 L461.42,565.50 L458.60,568.32 L455.78,565.50 Z" fill="#c29ab5" stroke="#120606" stroke-width="1.8" stroke-linejoin="round"/>
<path d="M463.30,565.38 L466.12,568.20 L463.30,571.02 L460.48,568.20 Z" fill="#c29ab5" stroke="#120606" stroke-width="1.8" stroke-linejoin="round"/>
<path d="M458.50,567.78 L461.32,570.60 L458.50,573.42 L455.68,570.60 Z" fill="#c29ab5" stroke="#120606" stroke-width="1.8" stroke-linejoin="round"/>
<path d="M468.10,570.68 L470.92,573.50 L468.10,576.32 L465.28,573.50 Z" fill="#c29ab5" stroke="#120606" stroke-width="1.8" stroke-linejoin="round"/>
<path d="M463.30,576.38 L466.12,579.20 L463.30,582.02 L460.48,579.20 Z" fill="#c29ab5" stroke="#120606" stroke-width="1.8" stroke-linejoin="round"/>
<path d="M458.50,579.28 L461.32,582.10 L458.50,584.92 L455.68,582.10 Z" fill="#c29ab5" stroke="#120606" stroke-width="1.8" stroke-linejoin="round"/>
<path d="M463.30,586.18 L466.12,589.00 L463.30,591.82 L460.48,589.00 Z" fill="#c29ab5" stroke="#120606" stroke-width="1.8" stroke-linejoin="round"/>
<path d="M468.10,595.18 L470.92,598.00 L468.10,600.82 L465.28,598.00 Z" fill="#c29ab5" stroke="#120606" stroke-width="1.8" stroke-linejoin="round"/>
<path d="M463.30,597.58 L466.12,600.40 L463.30,603.22 L460.48,600.40 Z" fill="#c29ab5" stroke="#120606" stroke-width="1.8" stroke-linejoin="round"/>
<line x1="452.10" y1="567.00" x2="474.40" y2="567.00" stroke="#cc77c0" stroke-width="2.6" />
<circle cx="497.80" cy="515.80" r="3.10" fill="#1e9a5c" stroke="#0e7a44" stroke-width="0.8"/>
<circle cx="497.80" cy="523.40" r="3.10" fill="#1e9a5c" stroke="#0e7a44" stroke-width="0.8"/>
<circle cx="489.80" cy="530.50" r="3.10" fill="#1e9a5c" stroke="#0e7a44" stroke-width="0.8"/>
<circle cx="497.80" cy="532.10" r="3.10" fill="#1e9a5c" stroke="#0e7a44" stroke-width="0.8"/>
<circle cx="505.40" cy="536.50" r="3.10" fill="#1e9a5c" stroke="#0e7a44" stroke-width="0.8"/>
<circle cx="497.80" cy="541.20" r="3.10" fill="#1e9a5c" stroke="#0e7a44" stroke-width="0.8"/>
<circle cx="489.80" cy="545.80" r="3.10" fill="#1e9a5c" stroke="#0e7a44" stroke-width="0.8"/>
<circle cx="497.80" cy="551.20" r="3.10" fill="#1e9a5c" stroke="#0e7a44" stroke-width="0.8"/>
<circle cx="489.80" cy="554.50" r="3.10" fill="#1e9a5c" stroke="#0e7a44" stroke-width="0.8"/>
<circle cx="505.40" cy="557.50" r="3.10" fill="#1e9a5c" stroke="#0e7a44" stroke-width="0.8"/>
<circle cx="497.80" cy="561.90" r="3.10" fill="#1e9a5c" stroke="#0e7a44" stroke-width="0.8"/>
<circle cx="489.80" cy="567.50" r="3.10" fill="#1e9a5c" stroke="#0e7a44" stroke-width="0.8"/>
<circle cx="497.80" cy="574.10" r="3.10" fill="#1e9a5c" stroke="#0e7a44" stroke-width="0.8"/>
<circle cx="497.80" cy="586.60" r="3.10" fill="#1e9a5c" stroke="#0e7a44" stroke-width="0.8"/>
<line x1="486.30" y1="547.90" x2="509.00" y2="547.90" stroke="#12955a" stroke-width="2.8" />
<text x="12.00" y="660.50" font-size="20" text-anchor="start" font-weight="bold" fill="#000" >D</text>
<circle cx="43" cy="683.3" r="2.8" fill="none" stroke="#6a5cae" stroke-width="1.3"/>
<text x="54.60" y="687.20" font-size="13.6" text-anchor="start" font-weight="normal" fill="#000" textLength="155.60" lengthAdjust="spacingAndGlyphs" ><tspan font-weight="bold">Group 1</tspan>: Low VL, Low IA</text>
<path d="M42.5,697.8 L46.7,702 L42.5,706.2 L38.3,702 Z" fill="none" stroke="#e0202a" stroke-width="2.4"/>
<text x="54.60" y="704.80" font-size="13.6" text-anchor="start" font-weight="normal" fill="#000" textLength="161.00" lengthAdjust="spacingAndGlyphs" ><tspan font-weight="bold">Group 2</tspan>: High VL, High IA</text>
<rect x="39" y="715.3" width="7" height="7" fill="none" stroke="#2d4fa8" stroke-width="2.2"/>
<text x="54.60" y="722.70" font-size="13.6" text-anchor="start" font-weight="normal" fill="#000" textLength="158.00" lengthAdjust="spacingAndGlyphs" ><tspan font-weight="bold">Group 3</tspan>: High VL, Low IA</text>
<line x1="67.20" y1="740.44" x2="67.20" y2="868.00" stroke="#000" stroke-width="2" />
<line x1="66.20" y1="867.00" x2="195.40" y2="867.00" stroke="#000" stroke-width="2" />
<line x1="62.20" y1="741.24" x2="67.20" y2="741.24" stroke="#000" stroke-width="2" />
<text x="61.20" y="745.34" font-size="10" text-anchor="end" font-weight="normal" fill="#000" textLength="16.05" lengthAdjust="spacingAndGlyphs" >800</text>
<line x1="62.20" y1="772.68" x2="67.20" y2="772.68" stroke="#000" stroke-width="2" />
<text x="61.20" y="776.78" font-size="10" text-anchor="end" font-weight="normal" fill="#000" textLength="16.05" lengthAdjust="spacingAndGlyphs" >600</text>
<line x1="62.20" y1="804.12" x2="67.20" y2="804.12" stroke="#000" stroke-width="2" />
<text x="61.20" y="808.22" font-size="10" text-anchor="end" font-weight="normal" fill="#000" textLength="16.05" lengthAdjust="spacingAndGlyphs" >400</text>
<line x1="62.20" y1="835.56" x2="67.20" y2="835.56" stroke="#000" stroke-width="2" />
<text x="61.20" y="839.66" font-size="10" text-anchor="end" font-weight="normal" fill="#000" textLength="16.05" lengthAdjust="spacingAndGlyphs" >200</text>
<line x1="62.40" y1="756.96" x2="67.20" y2="756.96" stroke="#000" stroke-width="2" />
<line x1="62.40" y1="788.40" x2="67.20" y2="788.40" stroke="#000" stroke-width="2" />
<line x1="62.40" y1="819.84" x2="67.20" y2="819.84" stroke="#000" stroke-width="2" />
<line x1="62.40" y1="851.28" x2="67.20" y2="851.28" stroke="#000" stroke-width="2" />
<text x="57.40" y="870.30" font-size="10" text-anchor="end" font-weight="normal" fill="#000" textLength="5.35" lengthAdjust="spacingAndGlyphs" >0</text>
<line x1="62.80" y1="867.00" x2="67.20" y2="867.00" stroke="#000" stroke-width="1.6" />
<line x1="67.00" y1="867.00" x2="67.00" y2="871.00" stroke="#000" stroke-width="1.6" />
<text x="67.00" y="882.00" font-size="10" text-anchor="middle" font-weight="normal" fill="#000" textLength="5.35" lengthAdjust="spacingAndGlyphs" >1</text>
<line x1="92.60" y1="867.00" x2="92.60" y2="871.00" stroke="#000" stroke-width="1.6" />
<text x="92.60" y="882.00" font-size="10" text-anchor="middle" font-weight="normal" fill="#000" textLength="5.35" lengthAdjust="spacingAndGlyphs" >2</text>
<line x1="118.20" y1="867.00" x2="118.20" y2="871.00" stroke="#000" stroke-width="1.6" />
<text x="118.20" y="882.00" font-size="10" text-anchor="middle" font-weight="normal" fill="#000" textLength="5.35" lengthAdjust="spacingAndGlyphs" >3</text>
<line x1="143.80" y1="867.00" x2="143.80" y2="871.00" stroke="#000" stroke-width="1.6" />
<text x="143.80" y="882.00" font-size="10" text-anchor="middle" font-weight="normal" fill="#000" textLength="5.35" lengthAdjust="spacingAndGlyphs" >4</text>
<line x1="169.40" y1="867.00" x2="169.40" y2="871.00" stroke="#000" stroke-width="1.6" />
<text x="169.40" y="882.00" font-size="10" text-anchor="middle" font-weight="normal" fill="#000" textLength="5.35" lengthAdjust="spacingAndGlyphs" >5</text>
<line x1="195.00" y1="867.00" x2="195.00" y2="871.00" stroke="#000" stroke-width="1.6" />
<text x="195.00" y="882.00" font-size="10" text-anchor="middle" font-weight="normal" fill="#000" textLength="5.35" lengthAdjust="spacingAndGlyphs" >6</text>
<line x1="67.2" y1="812.8" x2="197" y2="812.8" stroke="#111" stroke-width="1.1" stroke-dasharray="2.2,1.3"/>
<line x1="144.7" y1="741" x2="144.7" y2="867" stroke="#333" stroke-width="0.9" stroke-dasharray="1.2,1"/>
<text x="134.45" y="897.70" font-size="13.4" text-anchor="middle" font-weight="normal" fill="#000" textLength="88.00" lengthAdjust="spacingAndGlyphs" >HIV Viral Load</text>
<text x="134.20" y="908.50" font-size="13.4" text-anchor="middle" font-weight="normal" fill="#000" textLength="124.60" lengthAdjust="spacingAndGlyphs" >(log RNA/ml plasma)</text>
<text transform="translate(12.00,798.10) rotate(-90)" x="0" y="0" font-size="14.7" text-anchor="middle" font-weight="normal" fill="#000" textLength="80.20" lengthAdjust="spacingAndGlyphs">MdFI CD38</text>
<text transform="translate(30.40,797.75) rotate(-90)" x="0" y="0" font-size="14.7" text-anchor="middle" font-weight="normal" fill="#000" textLength="97.60" lengthAdjust="spacingAndGlyphs">(CD8+ T cells)</text>
<circle cx="96.2" cy="838.5" r="2.5" fill="#fff" fill-opacity="0.6" stroke="#6a5cae" stroke-width="1.1"/>
<circle cx="93.1" cy="853.3" r="2.5" fill="#fff" fill-opacity="0.6" stroke="#6a5cae" stroke-width="1.1"/>
<circle cx="117.7" cy="831.5" r="2.5" fill="#fff" fill-opacity="0.6" stroke="#6a5cae" stroke-width="1.1"/>
<circle cx="120.6" cy="832.7" r="2.5" fill="#fff" fill-opacity="0.6" stroke="#6a5cae" stroke-width="1.1"/>
<circle cx="123.8" cy="836" r="2.5" fill="#fff" fill-opacity="0.6" stroke="#6a5cae" stroke-width="1.1"/>
<circle cx="127.3" cy="821.2" r="2.5" fill="#fff" fill-opacity="0.6" stroke="#6a5cae" stroke-width="1.1"/>
<circle cx="132.7" cy="828.8" r="2.5" fill="#fff" fill-opacity="0.6" stroke="#6a5cae" stroke-width="1.1"/>
<circle cx="130.2" cy="837.5" r="2.5" fill="#fff" fill-opacity="0.6" stroke="#6a5cae" stroke-width="1.1"/>
<circle cx="128.3" cy="842.3" r="2.5" fill="#fff" fill-opacity="0.6" stroke="#6a5cae" stroke-width="1.1"/>
<path d="M178.2,752.4000000000001 L182.0,756.2 L178.2,760.0 L174.39999999999998,756.2 Z" fill="#fff" stroke="#e0202a" stroke-width="2.3"/>
<path d="M165.4,762.0 L169.20000000000002,765.8 L165.4,769.5999999999999 L161.6,765.8 Z" fill="#fff" stroke="#e0202a" stroke-width="2.3"/>
<path d="M176.6,763.1 L180.4,766.9 L176.6,770.6999999999999 L172.79999999999998,766.9 Z" fill="#fff" stroke="#e0202a" stroke-width="2.3"/>
<path d="M159.2,775.9000000000001 L163.0,779.7 L159.2,783.5 L155.39999999999998,779.7 Z" fill="#fff" stroke="#e0202a" stroke-width="2.3"/>
<path d="M188,787.3000000000001 L191.8,791.1 L188,794.9 L184.2,791.1 Z" fill="#fff" stroke="#e0202a" stroke-width="2.3"/>
<path d="M169.7,788.8000000000001 L173.5,792.6 L169.7,796.4 L165.89999999999998,792.6 Z" fill="#fff" stroke="#e0202a" stroke-width="2.3"/>
<path d="M162.8,792.4000000000001 L166.60000000000002,796.2 L162.8,800.0 L159.0,796.2 Z" fill="#fff" stroke="#e0202a" stroke-width="2.3"/>
<path d="M155.1,798.5 L158.9,802.3 L155.1,806.0999999999999 L151.29999999999998,802.3 Z" fill="#fff" stroke="#e0202a" stroke-width="2.3"/>
<path d="M167.7,804.2 L171.5,808 L167.7,811.8 L163.89999999999998,808 Z" fill="#fff" stroke="#e0202a" stroke-width="2.3"/>
<rect x="169.60" y="814.70" width="6" height="6" fill="#fff" stroke="#2d4fa8" stroke-width="1.8"/>
<rect x="150.10" y="824.40" width="6" height="6" fill="#fff" stroke="#2d4fa8" stroke-width="1.8"/>
<rect x="156.70" y="823.20" width="6" height="6" fill="#fff" stroke="#2d4fa8" stroke-width="1.8"/>
<rect x="165.50" y="825.50" width="6" height="6" fill="#fff" stroke="#2d4fa8" stroke-width="1.8"/>
<rect x="172.40" y="831.20" width="6" height="6" fill="#fff" stroke="#2d4fa8" stroke-width="1.8"/>
<rect x="155.20" y="833.20" width="6" height="6" fill="#fff" stroke="#2d4fa8" stroke-width="1.8"/>
<rect x="156.70" y="836.70" width="6" height="6" fill="#fff" stroke="#2d4fa8" stroke-width="1.8"/>
<rect x="154.5" y="834" width="6" height="8" fill="#2d4fa8"/>
<text x="245.00" y="660.50" font-size="20" text-anchor="start" font-weight="bold" fill="#000" >E</text>
<text x="337.25" y="657.20" font-size="13.2" text-anchor="middle" font-weight="bold" fill="#000" textLength="51.20" lengthAdjust="spacingAndGlyphs" >Group 1</text>
<text x="408.25" y="657.20" font-size="13.2" text-anchor="middle" font-weight="bold" fill="#000" textLength="51.20" lengthAdjust="spacingAndGlyphs" >Group 2</text>
<text x="477.50" y="657.20" font-size="13.2" text-anchor="middle" font-weight="bold" fill="#000" textLength="51.20" lengthAdjust="spacingAndGlyphs" >Group 3</text>
<text x="341.90" y="676.40" font-size="10.6" text-anchor="middle" font-weight="normal" fill="#222" textLength="39.00" lengthAdjust="spacingAndGlyphs" ><tspan font-style="italic">P</tspan> = 0.49</text>
<text x="411.10" y="676.40" font-size="10.6" text-anchor="middle" font-weight="normal" fill="#222" textLength="39.00" lengthAdjust="spacingAndGlyphs" ><tspan font-style="italic">P</tspan> = 0.05</text>
<text x="480.50" y="676.40" font-size="10.6" text-anchor="middle" font-weight="normal" fill="#222" textLength="39.00" lengthAdjust="spacingAndGlyphs" ><tspan font-style="italic">P</tspan> = 0.40</text>
<text x="342.50" y="786.80" font-size="10.6" text-anchor="middle" font-weight="normal" fill="#222" textLength="39.00" lengthAdjust="spacingAndGlyphs" ><tspan font-style="italic">P</tspan> = 0.23</text>
<text x="412.00" y="786.80" font-size="10.6" text-anchor="middle" font-weight="normal" fill="#222" textLength="39.00" lengthAdjust="spacingAndGlyphs" ><tspan font-style="italic">P</tspan> = 0.01</text>
<text x="480.50" y="786.80" font-size="10.6" text-anchor="middle" font-weight="normal" fill="#222" textLength="39.00" lengthAdjust="spacingAndGlyphs" ><tspan font-style="italic">P</tspan> = 0.42</text>
<line x1="313.00" y1="674.80" x2="313.00" y2="766.60" stroke="#000" stroke-width="2.1" />
<line x1="312.00" y1="765.60" x2="374.40" y2="765.60" stroke="#000" stroke-width="2" />
<line x1="308.70" y1="682.50" x2="313.00" y2="682.50" stroke="#000" stroke-width="2" />
<line x1="308.70" y1="724.20" x2="313.00" y2="724.20" stroke="#000" stroke-width="2" />
<line x1="308.70" y1="765.50" x2="313.00" y2="765.50" stroke="#000" stroke-width="2" />
<line x1="313.00" y1="787.30" x2="313.00" y2="880.00" stroke="#000" stroke-width="2" />
<line x1="312.00" y1="879.00" x2="373.90" y2="879.00" stroke="#000" stroke-width="2" />
<line x1="308.70" y1="788.00" x2="313.00" y2="788.00" stroke="#000" stroke-width="2" />
<line x1="308.70" y1="809.90" x2="313.00" y2="809.90" stroke="#000" stroke-width="2" />
<line x1="308.70" y1="831.75" x2="313.00" y2="831.75" stroke="#000" stroke-width="2" />
<line x1="308.70" y1="853.60" x2="313.00" y2="853.60" stroke="#000" stroke-width="2" />
<line x1="308.70" y1="875.30" x2="313.00" y2="875.30" stroke="#000" stroke-width="2" />
<line x1="382.40" y1="674.80" x2="382.40" y2="766.60" stroke="#000" stroke-width="2.1" />
<line x1="381.40" y1="765.60" x2="442.70" y2="765.60" stroke="#000" stroke-width="2" />
<line x1="378.10" y1="682.50" x2="382.40" y2="682.50" stroke="#000" stroke-width="2" />
<line x1="378.10" y1="724.20" x2="382.40" y2="724.20" stroke="#000" stroke-width="2" />
<line x1="378.10" y1="765.50" x2="382.40" y2="765.50" stroke="#000" stroke-width="2" />
<line x1="382.40" y1="787.30" x2="382.40" y2="880.00" stroke="#000" stroke-width="2" />
<line x1="381.40" y1="879.00" x2="442.20" y2="879.00" stroke="#000" stroke-width="2" />
<line x1="378.10" y1="788.00" x2="382.40" y2="788.00" stroke="#000" stroke-width="2" />
<line x1="378.10" y1="809.90" x2="382.40" y2="809.90" stroke="#000" stroke-width="2" />
<line x1="378.10" y1="831.75" x2="382.40" y2="831.75" stroke="#000" stroke-width="2" />
<line x1="378.10" y1="853.60" x2="382.40" y2="853.60" stroke="#000" stroke-width="2" />
<line x1="378.10" y1="875.30" x2="382.40" y2="875.30" stroke="#000" stroke-width="2" />
<line x1="450.10" y1="674.80" x2="450.10" y2="766.60" stroke="#000" stroke-width="2.1" />
<line x1="449.10" y1="765.60" x2="511.00" y2="765.60" stroke="#000" stroke-width="2" />
<line x1="445.80" y1="682.50" x2="450.10" y2="682.50" stroke="#000" stroke-width="2" />
<line x1="445.80" y1="724.20" x2="450.10" y2="724.20" stroke="#000" stroke-width="2" />
<line x1="445.80" y1="765.50" x2="450.10" y2="765.50" stroke="#000" stroke-width="2" />
<line x1="450.10" y1="787.30" x2="450.10" y2="880.00" stroke="#000" stroke-width="2" />
<line x1="449.10" y1="879.00" x2="510.50" y2="879.00" stroke="#000" stroke-width="2" />
<line x1="445.80" y1="788.00" x2="450.10" y2="788.00" stroke="#000" stroke-width="2" />
<line x1="445.80" y1="809.90" x2="450.10" y2="809.90" stroke="#000" stroke-width="2" />
<line x1="445.80" y1="831.75" x2="450.10" y2="831.75" stroke="#000" stroke-width="2" />
<line x1="445.80" y1="853.60" x2="450.10" y2="853.60" stroke="#000" stroke-width="2" />
<line x1="445.80" y1="875.30" x2="450.10" y2="875.30" stroke="#000" stroke-width="2" />
<text x="307.80" y="686.60" font-size="10" text-anchor="end" font-weight="normal" fill="#000" textLength="26.75" lengthAdjust="spacingAndGlyphs" >20000</text>
<text x="307.80" y="728.30" font-size="10" text-anchor="end" font-weight="normal" fill="#000" textLength="26.75" lengthAdjust="spacingAndGlyphs" >15000</text>
<text x="307.80" y="769.60" font-size="10" text-anchor="end" font-weight="normal" fill="#000" textLength="26.75" lengthAdjust="spacingAndGlyphs" >10000</text>
<text x="307.80" y="792.10" font-size="10" text-anchor="end" font-weight="normal" fill="#000" textLength="21.40" lengthAdjust="spacingAndGlyphs" >4000</text>
<text x="307.80" y="835.85" font-size="10" text-anchor="end" font-weight="normal" fill="#000" textLength="21.40" lengthAdjust="spacingAndGlyphs" >3000</text>
<text x="307.80" y="879.40" font-size="10" text-anchor="end" font-weight="normal" fill="#000" textLength="21.40" lengthAdjust="spacingAndGlyphs" >2000</text>
<text transform="translate(265.40,722.85) rotate(-90)" x="0" y="0" font-size="15.2" text-anchor="middle" font-weight="normal" fill="#000" textLength="78.60" lengthAdjust="spacingAndGlyphs">CD8&#945; MdFI</text>
<text transform="translate(265.40,836.15) rotate(-90)" x="0" y="0" font-size="15.2" text-anchor="middle" font-weight="normal" fill="#000" textLength="78.60" lengthAdjust="spacingAndGlyphs">CD8&#946; MdFI</text>
<line x1="328.20" y1="738.00" x2="358.30" y2="681.90" stroke="#7a5cc4" stroke-width="2" />
<line x1="328.20" y1="697.90" x2="358.30" y2="701.40" stroke="#7a5cc4" stroke-width="2" />
<line x1="328.20" y1="703.80" x2="358.30" y2="727.00" stroke="#7a5cc4" stroke-width="2" />
<line x1="328.20" y1="710.10" x2="358.30" y2="703.80" stroke="#7a5cc4" stroke-width="2" />
<line x1="328.20" y1="712.50" x2="358.30" y2="741.30" stroke="#7a5cc4" stroke-width="2" />
<line x1="328.20" y1="715.40" x2="358.30" y2="718.75" stroke="#7a5cc4" stroke-width="2" />
<line x1="328.20" y1="720.20" x2="358.30" y2="729.30" stroke="#7a5cc4" stroke-width="2" />
<line x1="328.20" y1="722.10" x2="358.30" y2="711.50" stroke="#7a5cc4" stroke-width="2" />
<line x1="328.20" y1="727.90" x2="358.30" y2="724.50" stroke="#7a5cc4" stroke-width="2" />
<circle cx="328.2" cy="697.9" r="2.2" fill="#7a5cc4" stroke="#111" stroke-width="1.6"/>
<circle cx="328.2" cy="703.8" r="2.2" fill="#7a5cc4" stroke="#111" stroke-width="1.6"/>
<circle cx="328.2" cy="710.1" r="2.2" fill="#7a5cc4" stroke="#111" stroke-width="1.6"/>
<circle cx="328.2" cy="712.5" r="2.2" fill="#7a5cc4" stroke="#111" stroke-width="1.6"/>
<circle cx="328.2" cy="715.4" r="2.2" fill="#7a5cc4" stroke="#111" stroke-width="1.6"/>
<circle cx="328.2" cy="720.2" r="2.2" fill="#7a5cc4" stroke="#111" stroke-width="1.6"/>
<circle cx="328.2" cy="722.1" r="2.2" fill="#7a5cc4" stroke="#111" stroke-width="1.6"/>
<circle cx="328.2" cy="727.9" r="2.2" fill="#7a5cc4" stroke="#111" stroke-width="1.6"/>
<circle cx="328.2" cy="738" r="2.2" fill="#7a5cc4" stroke="#111" stroke-width="1.6"/>
<circle cx="358.3" cy="681.9" r="2.2" fill="#7a5cc4" stroke="#111" stroke-width="1.6"/>
<circle cx="358.3" cy="701.4" r="2.2" fill="#7a5cc4" stroke="#111" stroke-width="1.6"/>
<circle cx="358.3" cy="703.8" r="2.2" fill="#7a5cc4" stroke="#111" stroke-width="1.6"/>
<circle cx="358.3" cy="711.5" r="2.2" fill="#7a5cc4" stroke="#111" stroke-width="1.6"/>
<circle cx="358.3" cy="718.75" r="2.2" fill="#7a5cc4" stroke="#111" stroke-width="1.6"/>
<circle cx="358.3" cy="724.5" r="2.2" fill="#7a5cc4" stroke="#111" stroke-width="1.6"/>
<circle cx="358.3" cy="727" r="2.2" fill="#7a5cc4" stroke="#111" stroke-width="1.6"/>
<circle cx="358.3" cy="729.3" r="2.2" fill="#7a5cc4" stroke="#111" stroke-width="1.6"/>
<circle cx="358.3" cy="741.3" r="2.2" fill="#7a5cc4" stroke="#111" stroke-width="1.6"/>
<line x1="396.90" y1="714.20" x2="427.50" y2="719.90" stroke="#ee3a28" stroke-width="2" />
<line x1="396.90" y1="717.60" x2="427.50" y2="721.00" stroke="#ee3a28" stroke-width="2" />
<line x1="396.90" y1="721.20" x2="427.50" y2="730.50" stroke="#ee3a28" stroke-width="2" />
<line x1="396.90" y1="725.00" x2="427.50" y2="732.90" stroke="#ee3a28" stroke-width="2" />
<line x1="396.90" y1="728.80" x2="427.50" y2="758.40" stroke="#ee3a28" stroke-width="2" />
<line x1="396.90" y1="732.60" x2="427.50" y2="739.10" stroke="#ee3a28" stroke-width="2" />
<line x1="396.90" y1="736.40" x2="427.50" y2="765.60" stroke="#ee3a28" stroke-width="2" />
<line x1="396.90" y1="740.20" x2="427.50" y2="741.00" stroke="#ee3a28" stroke-width="2" />
<line x1="396.90" y1="750.00" x2="427.50" y2="747.30" stroke="#ee3a28" stroke-width="2" />
<circle cx="396.9" cy="714.2" r="2.2" fill="#ee3a28" stroke="#111" stroke-width="1.6"/>
<circle cx="396.9" cy="717.6" r="2.2" fill="#ee3a28" stroke="#111" stroke-width="1.6"/>
<circle cx="396.9" cy="721.2" r="2.2" fill="#ee3a28" stroke="#111" stroke-width="1.6"/>
<circle cx="396.9" cy="725" r="2.2" fill="#ee3a28" stroke="#111" stroke-width="1.6"/>
<circle cx="396.9" cy="728.8" r="2.2" fill="#ee3a28" stroke="#111" stroke-width="1.6"/>
<circle cx="396.9" cy="732.6" r="2.2" fill="#ee3a28" stroke="#111" stroke-width="1.6"/>
<circle cx="396.9" cy="736.4" r="2.2" fill="#ee3a28" stroke="#111" stroke-width="1.6"/>
<circle cx="396.9" cy="740.2" r="2.2" fill="#ee3a28" stroke="#111" stroke-width="1.6"/>
<circle cx="396.9" cy="750" r="2.2" fill="#ee3a28" stroke="#111" stroke-width="1.6"/>
<circle cx="427.5" cy="719.9" r="2.2" fill="#ee3a28" stroke="#111" stroke-width="1.6"/>
<circle cx="427.5" cy="721" r="2.2" fill="#ee3a28" stroke="#111" stroke-width="1.6"/>
<circle cx="427.5" cy="730.5" r="2.2" fill="#ee3a28" stroke="#111" stroke-width="1.6"/>
<circle cx="427.5" cy="732.9" r="2.2" fill="#ee3a28" stroke="#111" stroke-width="1.6"/>
<circle cx="427.5" cy="739.1" r="2.2" fill="#ee3a28" stroke="#111" stroke-width="1.6"/>
<circle cx="427.5" cy="741" r="2.2" fill="#ee3a28" stroke="#111" stroke-width="1.6"/>
<circle cx="427.5" cy="747.3" r="2.2" fill="#ee3a28" stroke="#111" stroke-width="1.6"/>
<circle cx="427.5" cy="758.4" r="2.2" fill="#ee3a28" stroke="#111" stroke-width="1.6"/>
<circle cx="427.5" cy="765.6" r="2.2" fill="#ee3a28" stroke="#111" stroke-width="1.6"/>
<line x1="465.80" y1="711.30" x2="496.00" y2="683.30" stroke="#3553b8" stroke-width="2" />
<line x1="465.80" y1="714.20" x2="496.00" y2="717.20" stroke="#3553b8" stroke-width="2" />
<line x1="465.80" y1="714.20" x2="496.00" y2="747.10" stroke="#3553b8" stroke-width="2" />
<line x1="465.80" y1="727.90" x2="496.00" y2="712.30" stroke="#3553b8" stroke-width="2" />
<line x1="465.80" y1="731.90" x2="496.00" y2="728.40" stroke="#3553b8" stroke-width="2" />
<line x1="465.80" y1="734.80" x2="496.00" y2="754.90" stroke="#3553b8" stroke-width="2" />
<line x1="465.80" y1="737.70" x2="496.00" y2="747.10" stroke="#3553b8" stroke-width="2" />
<line x1="465.80" y1="748.00" x2="496.00" y2="732.80" stroke="#3553b8" stroke-width="2" />
<line x1="465.80" y1="731.90" x2="496.00" y2="732.80" stroke="#3553b8" stroke-width="2" />
<rect x="463.40" y="708.90" width="4.8" height="4.8" fill="#3553b8" stroke="#111" stroke-width="1.6"/>
<rect x="463.40" y="711.80" width="4.8" height="4.8" fill="#3553b8" stroke="#111" stroke-width="1.6"/>
<rect x="463.40" y="725.50" width="4.8" height="4.8" fill="#3553b8" stroke="#111" stroke-width="1.6"/>
<rect x="463.40" y="729.50" width="4.8" height="4.8" fill="#3553b8" stroke="#111" stroke-width="1.6"/>
<rect x="463.40" y="732.40" width="4.8" height="4.8" fill="#3553b8" stroke="#111" stroke-width="1.6"/>
<rect x="463.40" y="735.30" width="4.8" height="4.8" fill="#3553b8" stroke="#111" stroke-width="1.6"/>
<rect x="463.40" y="745.60" width="4.8" height="4.8" fill="#3553b8" stroke="#111" stroke-width="1.6"/>
<rect x="493.60" y="680.90" width="4.8" height="4.8" fill="#3553b8" stroke="#111" stroke-width="1.6"/>
<rect x="493.60" y="709.90" width="4.8" height="4.8" fill="#3553b8" stroke="#111" stroke-width="1.6"/>
<rect x="493.60" y="714.80" width="4.8" height="4.8" fill="#3553b8" stroke="#111" stroke-width="1.6"/>
<rect x="493.60" y="726.00" width="4.8" height="4.8" fill="#3553b8" stroke="#111" stroke-width="1.6"/>
<rect x="493.60" y="730.40" width="4.8" height="4.8" fill="#3553b8" stroke="#111" stroke-width="1.6"/>
<rect x="493.60" y="744.70" width="4.8" height="4.8" fill="#3553b8" stroke="#111" stroke-width="1.6"/>
<rect x="493.60" y="752.50" width="4.8" height="4.8" fill="#3553b8" stroke="#111" stroke-width="1.6"/>
<line x1="328.20" y1="817.50" x2="358.30" y2="833.80" stroke="#7a5cc4" stroke-width="2" />
<line x1="328.20" y1="823.75" x2="358.30" y2="814.60" stroke="#7a5cc4" stroke-width="2" />
<line x1="328.20" y1="826.60" x2="358.30" y2="819.40" stroke="#7a5cc4" stroke-width="2" />
<line x1="328.20" y1="830.00" x2="358.30" y2="814.60" stroke="#7a5cc4" stroke-width="2" />
<line x1="328.20" y1="832.40" x2="358.30" y2="836.70" stroke="#7a5cc4" stroke-width="2" />
<line x1="328.20" y1="838.20" x2="358.30" y2="843.00" stroke="#7a5cc4" stroke-width="2" />
<line x1="328.20" y1="840.60" x2="358.30" y2="829.50" stroke="#7a5cc4" stroke-width="2" />
<line x1="328.20" y1="844.40" x2="358.30" y2="846.30" stroke="#7a5cc4" stroke-width="2" />
<line x1="328.20" y1="854.00" x2="358.30" y2="843.00" stroke="#7a5cc4" stroke-width="2" />
<circle cx="328.2" cy="817.5" r="2.2" fill="#7a5cc4" stroke="#111" stroke-width="1.6"/>
<circle cx="328.2" cy="823.75" r="2.2" fill="#7a5cc4" stroke="#111" stroke-width="1.6"/>
<circle cx="328.2" cy="826.6" r="2.2" fill="#7a5cc4" stroke="#111" stroke-width="1.6"/>
<circle cx="328.2" cy="830" r="2.2" fill="#7a5cc4" stroke="#111" stroke-width="1.6"/>
<circle cx="328.2" cy="832.4" r="2.2" fill="#7a5cc4" stroke="#111" stroke-width="1.6"/>
<circle cx="328.2" cy="838.2" r="2.2" fill="#7a5cc4" stroke="#111" stroke-width="1.6"/>
<circle cx="328.2" cy="840.6" r="2.2" fill="#7a5cc4" stroke="#111" stroke-width="1.6"/>
<circle cx="328.2" cy="844.4" r="2.2" fill="#7a5cc4" stroke="#111" stroke-width="1.6"/>
<circle cx="328.2" cy="854" r="2.2" fill="#7a5cc4" stroke="#111" stroke-width="1.6"/>
<circle cx="358.3" cy="814.6" r="2.2" fill="#7a5cc4" stroke="#111" stroke-width="1.6"/>
<circle cx="358.3" cy="819.4" r="2.2" fill="#7a5cc4" stroke="#111" stroke-width="1.6"/>
<circle cx="358.3" cy="829.5" r="2.2" fill="#7a5cc4" stroke="#111" stroke-width="1.6"/>
<circle cx="358.3" cy="833.8" r="2.2" fill="#7a5cc4" stroke="#111" stroke-width="1.6"/>
<circle cx="358.3" cy="836.7" r="2.2" fill="#7a5cc4" stroke="#111" stroke-width="1.6"/>
<circle cx="358.3" cy="843" r="2.2" fill="#7a5cc4" stroke="#111" stroke-width="1.6"/>
<circle cx="358.3" cy="846.3" r="2.2" fill="#7a5cc4" stroke="#111" stroke-width="1.6"/>
<line x1="396.70" y1="818.00" x2="427.50" y2="819.90" stroke="#ee3a28" stroke-width="2" />
<line x1="396.70" y1="822.30" x2="427.50" y2="833.40" stroke="#ee3a28" stroke-width="2" />
<line x1="396.70" y1="835.30" x2="427.50" y2="852.10" stroke="#ee3a28" stroke-width="2" />
<line x1="396.70" y1="843.00" x2="427.50" y2="855.00" stroke="#ee3a28" stroke-width="2" />
<line x1="396.70" y1="846.30" x2="427.50" y2="857.90" stroke="#ee3a28" stroke-width="2" />
<line x1="396.70" y1="855.00" x2="427.50" y2="852.10" stroke="#ee3a28" stroke-width="2" />
<line x1="396.70" y1="857.40" x2="427.50" y2="862.20" stroke="#ee3a28" stroke-width="2" />
<line x1="396.70" y1="861.25" x2="427.50" y2="870.90" stroke="#ee3a28" stroke-width="2" />
<line x1="396.70" y1="843.00" x2="427.50" y2="862.20" stroke="#ee3a28" stroke-width="2" />
<circle cx="396.7" cy="818" r="2.2" fill="#ee3a28" stroke="#111" stroke-width="1.6"/>
<circle cx="396.7" cy="822.3" r="2.2" fill="#ee3a28" stroke="#111" stroke-width="1.6"/>
<circle cx="396.7" cy="835.3" r="2.2" fill="#ee3a28" stroke="#111" stroke-width="1.6"/>
<circle cx="396.7" cy="843" r="2.2" fill="#ee3a28" stroke="#111" stroke-width="1.6"/>
<circle cx="396.7" cy="846.3" r="2.2" fill="#ee3a28" stroke="#111" stroke-width="1.6"/>
<circle cx="396.7" cy="855" r="2.2" fill="#ee3a28" stroke="#111" stroke-width="1.6"/>
<circle cx="396.7" cy="857.4" r="2.2" fill="#ee3a28" stroke="#111" stroke-width="1.6"/>
<circle cx="396.7" cy="861.25" r="2.2" fill="#ee3a28" stroke="#111" stroke-width="1.6"/>
<circle cx="427.5" cy="819.9" r="2.2" fill="#ee3a28" stroke="#111" stroke-width="1.6"/>
<circle cx="427.5" cy="833.4" r="2.2" fill="#ee3a28" stroke="#111" stroke-width="1.6"/>
<circle cx="427.5" cy="852.1" r="2.2" fill="#ee3a28" stroke="#111" stroke-width="1.6"/>
<circle cx="427.5" cy="855" r="2.2" fill="#ee3a28" stroke="#111" stroke-width="1.6"/>
<circle cx="427.5" cy="857.9" r="2.2" fill="#ee3a28" stroke="#111" stroke-width="1.6"/>
<circle cx="427.5" cy="862.2" r="2.2" fill="#ee3a28" stroke="#111" stroke-width="1.6"/>
<circle cx="427.5" cy="870.9" r="2.2" fill="#ee3a28" stroke="#111" stroke-width="1.6"/>
<line x1="465.50" y1="813.40" x2="496.00" y2="792.40" stroke="#3553b8" stroke-width="2" />
<line x1="465.50" y1="821.80" x2="496.00" y2="818.30" stroke="#3553b8" stroke-width="2" />
<line x1="465.50" y1="821.80" x2="496.00" y2="842.40" stroke="#3553b8" stroke-width="2" />
<line x1="465.50" y1="824.60" x2="496.00" y2="878.40" stroke="#3553b8" stroke-width="2" />
<line x1="465.50" y1="837.20" x2="496.00" y2="822.30" stroke="#3553b8" stroke-width="2" />
<line x1="465.50" y1="840.10" x2="496.00" y2="830.30" stroke="#3553b8" stroke-width="2" />
<line x1="465.50" y1="843.50" x2="496.00" y2="846.40" stroke="#3553b8" stroke-width="2" />
<line x1="465.50" y1="850.40" x2="496.00" y2="842.40" stroke="#3553b8" stroke-width="2" />
<line x1="465.50" y1="863.50" x2="496.00" y2="857.80" stroke="#3553b8" stroke-width="2" />
<line x1="465.50" y1="819.50" x2="496.00" y2="814.90" stroke="#3553b8" stroke-width="2" />
<rect x="463.10" y="811.00" width="4.8" height="4.8" fill="#3553b8" stroke="#111" stroke-width="1.6"/>
<rect x="463.10" y="817.10" width="4.8" height="4.8" fill="#3553b8" stroke="#111" stroke-width="1.6"/>
<rect x="463.10" y="819.40" width="4.8" height="4.8" fill="#3553b8" stroke="#111" stroke-width="1.6"/>
<rect x="463.10" y="822.20" width="4.8" height="4.8" fill="#3553b8" stroke="#111" stroke-width="1.6"/>
<rect x="463.10" y="834.80" width="4.8" height="4.8" fill="#3553b8" stroke="#111" stroke-width="1.6"/>
<rect x="463.10" y="837.70" width="4.8" height="4.8" fill="#3553b8" stroke="#111" stroke-width="1.6"/>
<rect x="463.10" y="841.10" width="4.8" height="4.8" fill="#3553b8" stroke="#111" stroke-width="1.6"/>
<rect x="463.10" y="848.00" width="4.8" height="4.8" fill="#3553b8" stroke="#111" stroke-width="1.6"/>
<rect x="463.10" y="861.10" width="4.8" height="4.8" fill="#3553b8" stroke="#111" stroke-width="1.6"/>
<rect x="493.60" y="790.00" width="4.8" height="4.8" fill="#3553b8" stroke="#111" stroke-width="1.6"/>
<rect x="493.60" y="812.50" width="4.8" height="4.8" fill="#3553b8" stroke="#111" stroke-width="1.6"/>
<rect x="493.60" y="815.90" width="4.8" height="4.8" fill="#3553b8" stroke="#111" stroke-width="1.6"/>
<rect x="493.60" y="819.90" width="4.8" height="4.8" fill="#3553b8" stroke="#111" stroke-width="1.6"/>
<rect x="493.60" y="827.90" width="4.8" height="4.8" fill="#3553b8" stroke="#111" stroke-width="1.6"/>
<rect x="493.60" y="840.00" width="4.8" height="4.8" fill="#3553b8" stroke="#111" stroke-width="1.6"/>
<rect x="493.60" y="844.00" width="4.8" height="4.8" fill="#3553b8" stroke="#111" stroke-width="1.6"/>
<rect x="493.60" y="855.40" width="4.8" height="4.8" fill="#3553b8" stroke="#111" stroke-width="1.6"/>
<rect x="493.60" y="876.00" width="4.8" height="4.8" fill="#3553b8" stroke="#111" stroke-width="1.6"/>
<text transform="translate(334.20,889.50) rotate(-45)" x="0" y="0" font-size="14" text-anchor="end">Acute</text>
<text transform="translate(367.80,887.00) rotate(-45)" x="0" y="0" font-size="14" text-anchor="end">Chronic</text>
<text transform="translate(402.80,889.50) rotate(-45)" x="0" y="0" font-size="14" text-anchor="end">Acute</text>
<text transform="translate(437.00,887.00) rotate(-45)" x="0" y="0" font-size="14" text-anchor="end">Chronic</text>
<text transform="translate(471.60,889.50) rotate(-45)" x="0" y="0" font-size="14" text-anchor="end">Acute</text>
<text transform="translate(505.50,887.00) rotate(-45)" x="0" y="0" font-size="14" text-anchor="end">Chronic</text>
</svg></body></html>
